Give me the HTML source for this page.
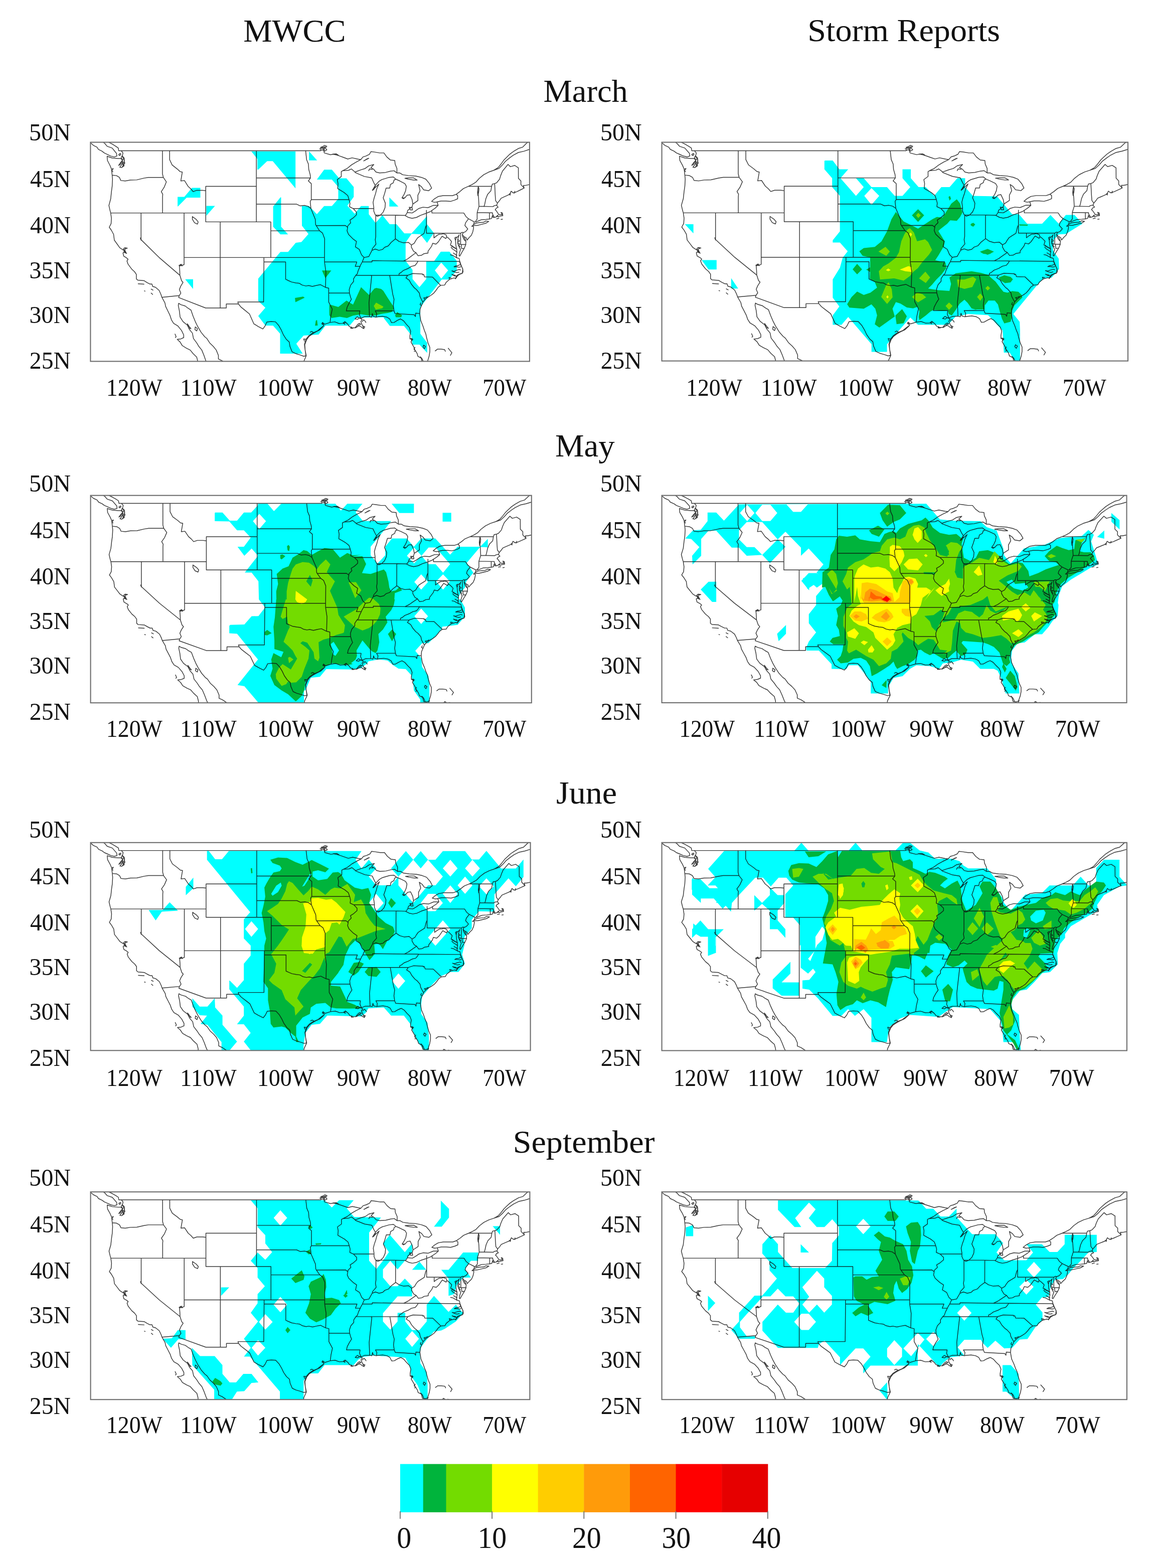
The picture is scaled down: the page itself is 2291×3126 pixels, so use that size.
<!DOCTYPE html>
<html lang="en"><head><meta charset="utf-8"><title>MWCC vs Storm Reports</title>
<style>html,body{margin:0;padding:0;background:#fff}svg{display:block}text{font-family:"Liberation Serif","DejaVu Serif",serif;fill:#111}.m{fill:none;stroke:#0d0d0d;stroke-width:1.45;stroke-opacity:.82;stroke-linejoin:round;stroke-linecap:round;vector-effect:non-scaling-stroke}.b{fill:none;stroke:#6e6e6e;stroke-width:2.1}</style></head><body>
<svg width="2291" height="3126" viewBox="0 0 2291 3126">
<rect width="2291" height="3126" fill="#fff"/>
<defs>
<path id="usmap" class="m" d="M0 0.5L4 3.5L9 5.5L11 8L16 10L19 12L23 13.5L28 15.5L33 16.5L36.5 15.5L36 12.5L33 9.5L30 6.5L23 4.5L20 1.5L17 -0.5M24 -0.5L30 2L35 4.5L38.5 6.5L39 9.5L42.5 9.5M42.5 9.5L45 12L44 15.5L46.5 17.5L47 20.5L46 23.5L46.5 26.5L43 28.5L40.5 28L43 25.5L44.5 22L43.5 19.5L42 18.3L38 18.3L30 17.7L23 15.7L23.5 20.5L27 26L29 30L29.5 33L30 37M30 37L30.5 41.5L30 49.5L29 55.5L28 63.5L25.5 71L27 76.5L28 79.5L29 85.5L28.5 91.5L26 95.5L29 99L32 103.5L33 110L37 114.5L40.5 118.5L45 121L46.5 119L49 119L47 121.5L49 124.5L46 123.5L45 124.5L46 128L50 130L52 131.5L50.5 133.5L52 137L57 142.5L61 145.5L63.5 148.5L63.5 153.5L65.5 155L74 155.5L78 157.5L82 159.3L85 159.3L86 162L90 163L95 166.5L97.5 171L98.8 174.2M66 159L74 159.5M74.5 167L75.5 167.3M84 165L86.5 166.2M84 169.5L86 171M98.8 174.2L103 180.5L104 184.5L107 189.5L110 194.5L112 199.5L115 203.5L121 206.5L126 211.5L129 216.5L129 219.5L125 221L120 221.5L124 224.5L127 228.5L133 231.5L138 233.5L142 237.5L147 241.5L148.5 246.5L149 251.5M163 251.5L160 246.5L157 239.5L154 233.5L150 229.5L147 225.5L142.5 220.5L141 214.5L137 210.5L134 205.5L128 201.5L124 196.5L123 189.5L121.5 183.5L122 181L125 182.5L131 184L135 186.5L139 188.5L142 195.5L145 201.5L148 206.5L153 213.5L158 218.5L161 220.5L165 225.5L170 229.5L174 233.5L177 239.5L177 243.5L182 245.5L187 248.5L190 251.5M98.8 174.2L122.8 172.3L122 174.5L159.3 186.2L187.9 186.2L187.9 181.7L204.7 181.7M204.7 181.7L208 185L214 189L220 193L223 198.5L226 204L232 207L238.5 209.8L241.5 206.5L244 202L250 201.5L256 201.8L260.5 206L264 211L267 216.5L271 221.5L275 224.5L276 229.5L279 235.5L284 237.5L290 239L295 240.5L298.5 239.9M294 251.5L295 246.5L298.5 239.9L297 233.5L296 227.5L298 221.5L302 217.5L307 214.5L314 212L319 208.5L323 206L321 202.5L324 204.5L331.5 202.5L338 201.8L344 203.7L349 203.5L352 201.5L356 204.5L358 207L362 208.5L367 208.5L370 206.5L373 206.5L376 208.5L378.5 209.5L376 205.5L374 201.5L376 199L372 197.5L375 197.5L379 196L386 195.8L389 196.5L390 192.5L391 195.5L395 196.5L398 196L404 195.5L410 196.5L414 198.5L416.5 202.7L420 202.5L425 200L429 198.5L433 200.5L437 204.5L441 208L443 212.5L442 217.5L442 221L445 220.5L443.5 224.5L447 229.5L449 233.5L452 237.5L453 240.5L457.5 242.5L459 247.5L463 248L466 247L467 244.5L468.5 240.5L469.5 235.5L469.5 230.5L467 225.5L465 219.5L464 215.5L462 211.5L460 206.5L457 200.5L456 195.5L455.5 192.5M455.5 192.5L456 187.5L458 183.5L460 179.5L463 176.5L467 174L471 172L475 169.5L478 166.5L481 163L484.5 160.8L490 160.5L492 157.5L497 154L503 152.5L505 153L507 149.5L511 148L514.5 147L515 142.5L512.5 137.5L511 134L510 130.5L507 130L506 127.5L507 123.5L506.5 120L501 117.5L498 115.5L499.5 111.5M506.5 120L505.5 115.5L505 110.5L506 107.5L509 105.5L510 104L508 109.5L508 113.5L510 117.5L512 120.5L510.5 124.5L510 127.5L511 128L514 123.5L517 119.5L519 115.5L519.5 111.5L517 109.5L515 106L514.5 103.5L516 101.5M514.5 103.5L516 105.5L520 107.5L521 110L524 107L527 104.5L529 100.5L530 96.5L530 94.5L527.5 94.5L530 92.5L531 89.5M530 93.5L535 93.5L541 92.3L547 91L551 89L547 88.5L543.5 90L538 90.3L533 91L530 92.5M531 89.5L533.5 89.5L538 88L541 87L547 86.7L551.5 86.3L555 85.7L556 82.5L557 84.5L559 84.5L561 84L563.5 82L564 84L567 83L570.5 82.5L570 79.5L568 78.8L569.5 81.5L565 81.5L563.5 79.5L561 76.5L560 76L561.5 74L564 73L562 71L563 68.5L566 65.5L568 63L572 61.5L576 60L580 58.5L582 55L585 57L590 55.5L595 53.5L600 51.5L599 48.5L602 48.5L607.5 47.5M562 86L565 85.5M568 86.7L570 86.5M558 31.5L564 28.5L568 24.5L572 20L575 17.5L580 13.5L585 10.5L592 7L598 5.5L604 0.5L607.5 -0.5M558 31.5L565 29.5L570 25.5L574 21.5L580 17.5L585 14.5L592 11.5L600 10L607.5 8M477 234.5L480 232.5L485 232.5L490 233L491 235M486 249.5L488 247.5L490 248.5L492 250.5M495 231.5L498 234.5L500 236.5L498 239.5M494 248.5L497 249.5M349 32L355 29.5L361 25.5L367 22.5L374 19.5L377 16.5L381 15.5L386 13.5L388 10.5L393 11L400 12L406 12L410 16.5L415 20L421 20.5L421.5 24.5L424 29.5L424 34.5L420 32L415 32.5L408 34L400 34.5L395 33.5L392 30.5L388 28.5L392 25L385 26.5L380 29.5L374 31L366 33.5L361 30L357 31.5L349 32M378 21L383 18.5L385 18L378 21M422.5 41.5L419 39L413 39.5L407 41L403 42L399 44L394 48.5L390 54L394 51L399 47L396 52.5L394.5 57.5L392.5 62.5L391 67.5L392 73.5L392 77.5L394 81.5L397 83.3L401 82L405 78.5L407.5 73.5L408 68.5L405 62.5L407 57.5L409 51.5L414 51.5L415 47.5L419 45.5L420 42.5L422.5 41.5M422.5 41.5L428 43.5L435 46.5L437 49.5L436 54.5L434 58.5L431 62.5L435 62.5L438 59.5L442 59L445 64.5L446 69.5L445 72.5L442 74.5L439 76.5L438 79.5L435.5 82.5M446 69.5L453 65.5L453 59.5L456 54.5L454 47.5L458 50L461 53.5L468 54.5L472 51.5L469 46.5L464 41.5L458 39.5L450 38L440 37.5L432 36.5L428 34.5L424 34.5M435 40.5L440 40L447 40L452 42.5L447 42.5L440 41.5L435 40.5M435.5 82.5L440 84.5L445 85.5L451 84.5L457 82L464 80L470 78L477 74L481 71L474 71L467 73.5L460 73L454 74.5L449 77.5L445 79.5L439 79M479.5 67L485 66L492 66L498 66.5L504 65L508 63.5L508 60L506 58.5L501 60L495 60L488 60L481 61L476 63.5L472 66.5L476 67.5L479.5 67M481 71L479.5 67M506 58.5L511 55.5L516 52L523 49.5L528 47.5L533 45L538 40.5L544 36.5L551 33.5L558 31.5M39 9.5L318.5 9.5L318.5 5.7L322 6.5L323.5 12L332 14L337 13.3L345 15.5L350 17L356 18.8L362 17.5L370 19L374 19.5M523 49.5L555 49.5L556 47L559.2 46.5L562 45.5L566 41.5L567.5 37.5L570 32.5L577.7 24.9L581 27.5L587 26L592 28.8L592.1 40.5L595.5 43.5L595.5 47.5L600 51.5M30 37L36 37.5L40 39.5L42 43L48 43.5L55 42.5L64 42.3L74 40.3L80 39.5L100.8 39.5M99.6 9.5L99.6 35.5L100.8 39.5L105 44.5L102 50.5L98 55.5L100 58.5L99.7 61.5L99.7 79.5M28 79.5L159.5 79.5M70 79.5L70 109.5L95 129.5L123.7 149.5M129.5 79.5L129.5 137.5L126 138.5L123 139L123.5 144.5L123.7 149.5L126 155.5L128 157.5L125 161.5L123 165.5L125 169.5L122.8 172.3M109.5 9.5L109.5 19.5L113 25.5L120 30L124 33L127 33.5L125 43.5L130 43L135 49.5L139 52.5L142 55.5L147 54L155 54L159.5 54.5M159.5 49.5L159.5 89.5M159.5 49.5L229.5 49.5M159.5 89.5L249.5 89.5M229.5 9.5L229.5 89.5M179.5 89.5L179.5 186.2M129.5 129.5L323.8 129.5M249.5 89.5L249.5 129.5M240 129.5L240 134.5L239.5 179.5L203.8 179.5L204.7 181.7M240 134.5L270 134.5L270 153.9L274 155.5L278 157L284 158L289 158.5L293 160.5L298 161.5L302 161L307 162L312 161L318 160L325.2 163.1L329.6 164M229.5 40.1L304.4 40.1M229.5 69.5L285 69.5L290 71.5L296 71L301 72L305 74.5M249.5 99.5L317 99.5M297.7 9.5L299 19.5L301.5 24.5L302 30.5L304 36.5L304.4 40.1L301.5 43.5L305.5 46.5L305.5 64.5L304 66.5L305 74.5L306.5 77.5L309 82.5L311 86.5L311.5 92.5L312.3 93.7L317 99.5L321 102L324 108.5L323.8 129.5L323.8 134.5L325.7 145.5L325.2 163.1M305.5 64.5L357.8 64.5M312.3 93.7L352.7 93.5L355.8 95.7M323.8 134.5L368.5 134.5L366.3 139.5L373 139.5M329.6 164L329.6 179.5L334.5 187.5L332.5 195.5L331.5 202.5M329.6 169.5L358.3 169.5M349 32L347 33L347 38.5L341.5 42L342.5 46.5L342 52L347 54.5L351 56.5L356 60L357.8 64.5L359 68.5L358.5 72.5L363.5 74.5L368 78.5L368 81.5L363.5 85L359 87.5L360 90.5L356 94L355.8 95.7L355 99.5L357 103.5L363 108.5L368 111.5L366.5 117.5L372 120.5L375 126.5L378.5 129.5L376 134.5L374 137.5L373 139.5L370.5 144L369 148L367 149.5L364 153.5L364 156.5L360 160.5L358 165.5L358.3 169.5L360 174.5L361 176.5L358 180.5L355 185.5L354 189.5L372.7 189.5L372 193.5L374 197.5M363.5 74.5L392 74.5M366 34L379 38.5L389 40L392 45.5L394 48.5M394.7 82.5L394.7 106L394 109.5L395 114.5L390 119.5L389.5 121.5M378.5 129.5L385 128.5L389.5 121.5L394 120L399 121.5L404 120.5L407 118L412 116.5L416 112.5L422 108.5L427 111.5L433 113L440 112.5L444 115.5L448 113.5L450 110.5L452.5 107.5L456 105.5L461.5 102.5L463.5 95.5L464.8 93.1M421.8 108.5L421.9 82.5M394.7 81.9L421.9 81.9L435.5 82.2M464.8 76.5L464.8 102.3M464.8 102.3L512.1 102.3L514 101.2L516 101.5M472.4 76.8L472.4 79.5L516.5 79.5L519.5 83.5L523 86L519 90.5L518 93.5L522 97.5L519 100.5L516 101.5M523 86L531 89.5M512.1 102.3L512.1 114.9L519.5 114.9M513 114.9L513.5 119.5L517 119.3M475.2 102.3L475.2 107.5L479 105L482 103.5L486 103.3L488 102.7L492 104L492.8 106.3L495 107.5L498 110L499.5 111.5M492.8 106.3L491.7 108.2L486.5 105.5L481.3 111.9L478 114.5L473.5 113.5L472 116.8L467 122.5L467 124.5L461.5 125.2L458 127L453.2 127.5L450.3 124.1L447 122.5L444 118L444 115.5M450.3 124.1L443 128.5L439 131L433.2 133.5M376 134.5L389.5 134.5L389.5 133L433.2 133.5L453.2 133.6L511 134M367 149.5L426.8 149.6L438.9 149.5M453.2 133.6L451 136.5L449 138.5L444 139.5L439 142L433 144L429.5 146.5L427 147.5L426.8 149.6M438.9 149.5L446 147.5L459.5 148L459.5 149L461 148.5L462.2 151.3L473.3 151.5L484.5 160.8M438.9 149.5L436.5 152.5L441 155L444 159.5L448 163.5L451 165.5L455 169.5L456 173.5L459 178.5L460 179.5M388 149.5L389 150.5L385.3 180.5L386 195.5M414 149.7L418.2 170.8L420 176.5L419 183.5L420 189.5L421.4 192.5L448 193.8L449.5 195.9L450 192L455.5 192.5M420 189.5L394 189.5L396 192.5L395.5 196M536.5 49.5L536 54.5L537 63.5L537.5 72L535 79L535 86.5L533 88.5L533.5 89.5M555 49.5L554 54.5L549.5 58.5L547 63.5L545.5 69.5L544.5 72.2M537.5 72L557 72.3L558.5 71.3L561.5 70.8M535 79L552 79.3L556.2 79.3L556.2 80.5L558 83.5L559 84.5M552 79.3L552 86.5M563 68.5L560.5 65.5L560 59.5L559.2 46.5M141 83.5L146 86.5L149 89.5L148 92L144 90.5L141 86.5L141 83.5M69 107.5L70 110M461 228L463.5 229.5L462 232L460 230L461 228M317 7.5L324 6.5L323 10.5M41 12.5L39 14L40.5 15L42 13.5L41 12.5M43.5 15.5L42.5 17.5L44.5 20L46 19L44.5 16.5L43.5 15.5M44 20.5L41 23.5L39 26L41.5 25L43 22L45 22L44.5 24.5L45.5 26L44 27.5M45 24.5L45.5 25.5L44.8 26.2M46.5 20.5L47.5 23.5L46 25M30 30L31.5 29.5L29.5 32.5L31 33M45 121L46 120.5L47.5 121L49.5 124.5L50 125L48 124L46.5 122.5L46 121.5M46.5 119L48 118.5L51 119L49 119.5M122.5 138.5L125 138L127 139L125.5 137L122.5 138.5M318.5 5.7L321 5L324 3.5L327 4.5L325 6.5L327 8.5L324 10L321.5 8.5L319 9M321 6L323 5.5L325 5L322.5 7L321 6M335 13.3L340 13L343 14.5L339 14L335 13.3M536.5 49.5L537.5 52.5L537 56.5L536 60L535.5 56.5L536 52.5L536.5 49.5M441 73L445 73.5L445.5 76L442.5 76L441 73M507 120L504 118.5L501 117L500 116M507 123.5L504 121.5L501 120L499 118M507 127L504 125.5L502 124.5M507 130L504 128.5L501 127L498 126.5M509 113.5L511 114.5L509.5 116L511.5 117.5M509 109.5L510.5 111L508.5 112M505 110.5L504 107.5L506 106.5M519.5 111.5L518.5 109L517 107M510.5 134L512.5 138.5L515 142L515.5 145.5L514.5 147.3L511 148.3L508 150L505 153.5M511 137.5L509 138.5L505 139L503 140L507 140L510 140.5L512 140M512 143.5L510 143L506 144L503 145L500 144.5L504 146L507 146.5L510 146M505 149.5L502 149L500 148.5L503 150L506 150.5M499 152.5L496 152L497 154M463 176.5L461 175L464 174.5L466 173.5M458 183.5L456 182.5L457 180.5M452 253.5L457 252.5L461 251.5L465 249.5L467 246.5M444 223.5L446 221.5L443 220.5L444.5 223M449 230.5L447.5 232.5L450 234.5L448 235M456.5 241L459 243.5L461 247.5M366 198.5L369 196L372 197.5L369.5 199L366 198.5M366 208.5L368 206.5L370 204.5L372 203.5L374 204.5L371 205.5L369 207.5M376 201.5L378 199.5L380 201L381 202.5M377 206.5L379.5 207.5L378 209M356 204.5L353 202.5L350 203.5L352 204.5M361 207.5L360 209L363 209M298 239.5L297 233.5L296.5 227.5L299 222L302 218.5L306 216L311 213.5L317 211L322 207M321 202.5L320 204L322 205M304 213.5L306 212.5L308 213.5M298 221.5L295 221L296 223.5M561 84L562.5 83.5L563.5 82M556 82.5L557 82L558 83M584 56.5L587 57L587 55M579 58.5L581 57.5L580.5 59.5M394 49.5L392.5 52.5L390.5 54M390 30.5L386 30L385 32M431 62.5L433 63.5L435 62.3M134 204L137 207.5L139 209.5L136 208.5L134 204M145 207.5L148 209.5L147 212L144.5 210.5L145 207.5M117 215.5L118.5 218.5L117.5 219.5"/>
<clipPath id="cp_r1l"><rect x="180.4" y="283.6" width="875.5" height="436.8"/></clipPath>
<clipPath id="cp_r1r"><rect x="1319.6" y="283.6" width="929.4" height="436"/></clipPath>
<clipPath id="cp_r2l"><rect x="180.6" y="987.7" width="879.2" height="413.5"/></clipPath>
<clipPath id="cp_r2r"><rect x="1319.6" y="987.7" width="926.9" height="413.3"/></clipPath>
<clipPath id="cp_r3l"><rect x="180.6" y="1679.8" width="877" height="414.5"/></clipPath>
<clipPath id="cp_r3r"><rect x="1319.6" y="1679.8" width="927.3" height="414.7"/></clipPath>
<clipPath id="cp_r4l"><rect x="180.6" y="2376.2" width="875.8" height="414"/></clipPath>
<clipPath id="cp_r4r"><rect x="1319.6" y="2376.2" width="927.3" height="414"/></clipPath>
</defs>
<g clip-path="url(#cp_r1l)">
<path fill="#00ffff" fill-rule="evenodd" d="M601.8 410.8L616.3 410.8L631.8 427.1L646.3 410.8L661.7 410.8L674.5 396.3L674.5 372.7L661.7 358.1L631.8 358.1L646.3 338.2L661.7 338.2L676.3 355.4L690.8 355.4L705.3 372.7L705.3 392.6L692.6 409.9L707.1 426.2L719.8 410.8L735.3 410.8L735.3 427.1L748.9 444.4L762.5 429L777 447.1L790.7 447.1L806.1 465.3L820.6 465.3L851.5 430.8L851.5 447.1L865.1 464.4L851.5 484.3L837.9 467.1L820.6 466.2L808.8 483.4L808.7 520L822.6 538.1L822.6 556.3L836.3 572.6L849.9 556.3L849.9 520.9L865.3 520.9L878.9 501.8L896.2 501.8L910.7 520L910.7 539L895.3 557.2L880.8 557.2L838.1 612.6L838.1 665.2L851.7 683.4L851.7 703.4L836.3 687L822.6 687L819.9 668L805.4 649.8L777.3 649.8L765.4 634.4L765.1 632.6L710.6 633.5L697 649.3L648.9 649.3L635.3 667.1L605.3 668.9L590.8 685.2L603.5 704.9L558.5 704.9L558.5 665.3L544.5 649.3L529.1 648.9L514.9 629.9L529.1 613.5L514.9 599.9L514.9 555.4L559.1 502.2L574.4 502.2L589.7 484L601 482.5L615 466.5L602 450ZM867.1 539L879.8 523.6L893.5 539L879.8 555.4Z"/>
<path fill="#00ffff" fill-rule="evenodd" d="M501.2 301.7L589.2 301.7L589.2 375.5L543.8 321.2L532.7 321.2L515.1 337.9L513.2 337.9L513.2 317Z"/>
<path fill="#00ffff" fill-rule="evenodd" d="M616.2 301.7L632.3 319.8L616.2 319.8Z"/>
<path fill="#00ffff" fill-rule="evenodd" d="M776.3 393.6L794.4 411.7L776.3 411.7Z"/>
<path fill="#00ffff" fill-rule="evenodd" d="M559.1 393.6L560.5 393.6L560.5 452L574.4 467.3L559.1 467.3L544.6 452L544.6 411.7Z"/>
<path fill="#00ffff" fill-rule="evenodd" d="M354.1 392.5L367.5 392.5L382.8 374.4L399.5 374.4L399.5 393.9L372.2 393.9L354.9 411.5L354.1 411.5Z"/>
<path fill="#00ffff" fill-rule="evenodd" d="M411.5 410.6L428.7 410.6L411.5 430.1Z"/>
<path fill="#00ffff" fill-rule="evenodd" d="M369.2 556.7L385 556.7L385 576.1Z"/>
<path fill="#00b43c" fill-rule="evenodd" d="M656.6 608.6L660.6 607.9L674.6 611.9L690.9 599.3L697.3 603.2L703.9 607.2L719.9 572.6L735.9 587.9L746.5 575.3L750.5 573.9L759.9 575.9L764.5 579.9L773.2 593.9L783.8 609.9L785.2 615.2L781.2 621.9L773.2 623.9L759.9 625.9L749.2 628.8L733.2 628.8L719.9 626.6L703.9 629.2L691.9 633.9L677.3 631.5L661.3 633.9L656.6 628.5Z"/>
<path fill="#00b43c" fill-rule="evenodd" d="M787.8 628.5L791.8 621.9L801.8 628.5L799.8 632.5L789.2 632.5Z"/>
<path fill="#00b43c" fill-rule="evenodd" d="M642 539.3L660.6 539.3L648.7 554.6Z"/>
<path fill="#00b43c" fill-rule="evenodd" d="M588.1 594.1L604.4 591.2L607.5 593.5L589 602.6Z"/>
<path fill="#00b43c" fill-rule="evenodd" d="M629.8 638.9L632.2 638L633.5 648.9L628 649.3Z"/>
<path fill="#73dc00" fill-rule="evenodd" d="M745.2 609.9L749.9 603.2L764.5 611.2L762.5 614.6L749.2 617.2Z"/>
<use href="#usmap" transform="translate(180.4 283.6) scale(1.44115 1.77417)"/>
</g>
<rect class="b" x="180.4" y="283.6" width="875.5" height="436.8"/>
<g clip-path="url(#cp_r1r)">
<path fill="#00ffff" fill-rule="evenodd" d="M1644.9 319.9L1660.4 319.9L1673.6 337.6L1691.3 337.6L1675.8 355.2L1706.7 390.6L1722.2 372.9L1706.7 355.2L1722.2 355.2L1737.7 372.9L1768.6 372.9L1784.1 390.6L1799.5 390.6L1815 372.9L1799.5 355.2L1799.5 337.6L1816.1 337.6L1816.1 355.2L1831.6 372.9L1845.9 372.9L1862.5 390.6L1876.9 372.9L1893.4 372.9L1908.9 355.2L1924.4 355.2L1924.4 372.9L1939.8 390.6L1988.2 391.6L2018.1 427L2031.5 427L2048 445.9L2077.9 445.9L2094.5 428.6L2111 445.9L2125.2 428.6L2142.5 428.6L2158.2 445.9L2125.2 466.4L2111 467.2L2101.5 477.4L2099.2 493.1L2100 500L2111 515.7L2111.8 536.2L2096.8 553.5L2081.1 555.1L2068.5 567.7L2020.5 625.9L2033.1 641.6L2033.9 657.4L2033.9 721.9L2024.4 721.9L2013.4 703L2001.6 703L2000.8 685.7L1999.2 659L1975.6 633.8L1970.1 628.3L1930 625.9L1905.6 630.9L1890.1 647.5L1830.5 647.5L1815 633.1L1768.6 686.2L1768.6 701.6L1737.7 701.6L1737.7 686.2L1691.3 632L1678 647.5L1660.4 647.5L1660.4 628.7L1673.6 611.1L1660.4 593.4L1660.4 556.9L1674.7 533.7L1680.2 513.8L1690.2 501.1L1674.7 483.4L1660.4 483.4L1660.4 479L1674.7 461.3L1674.7 390.6L1659.2 372.9L1659.2 355.2L1643.8 337.6L1643.8 321ZM1723.3 390.6L1737.7 375.1L1753.1 390.6L1737.7 408.3Z"/>
<path fill="#00ffff" fill-rule="evenodd" d="M1365.6 447L1382.6 447L1382.6 465.2Z"/>
<path fill="#00ffff" fill-rule="evenodd" d="M1399 518.4L1428.8 518.4L1428.8 537.2L1412.8 537.2Z"/>
<path fill="#00ffff" fill-rule="evenodd" d="M1457.9 554.5L1471.8 575.3L1457.9 575.3Z"/>
<path fill="#00b43c" fill-rule="evenodd" d="M1713.4 501.1L1722.2 494.4L1744.3 492.2L1757.6 481.2L1768.6 461.3L1777.5 437L1786.3 422.6L1801.8 441.4L1815 448L1830.5 455.8L1845.9 445.8L1859.2 437L1868 432.6L1879.1 433.7L1885.7 423.7L1896.8 406.1L1907.8 397.2L1914.4 406.1L1918.9 423.7L1914.4 432.6L1907.8 440.3L1894.6 439.2L1889 445.8L1874.7 456.9L1871.1 460.5L1883.7 480.9L1882.1 490.4L1871.1 509.2L1864.8 518.7L1885.3 523.4L1886.8 534.4L1877.4 547L1866.4 558L1858.5 567.5L1850.6 575.3L1871.1 578.5L1893.1 580.1L1896.3 565.9L1893.1 553.3L1905.7 544.7L1937.2 540.7L1956.1 543.9L1971.8 548.6L1974.1 551.9L1985.1 561.4L1994.5 574L2000.8 581.8L2008.7 583.4L2018.1 580.3L2030.7 581.8L2037 588.1L2038.6 592.9L2030.7 600.7L2022.9 608.6L2018.1 619.6L2017.3 633.8L2015 641.6L2002.4 644.8L1997.7 635.3L1993 619.6L1989.8 607L1983.5 599.2L1970.9 599.2L1963.8 608.6L1963.1 617.2L1930 616.5L1948.2 617.8L1937.2 614.7L1929.3 603.7L1923 597.4L1913.6 605.3L1905.7 617.8L1897.8 628.9L1891.5 625.7L1890 618.6L1877.4 619.4L1861.6 617.8L1855.3 621L1845.9 628.9L1833.3 638.3L1831.7 632L1833.3 621L1830.2 611.5L1820.7 614.7L1808.1 613.1L1795.5 605.3L1786.3 602.3L1779.6 615.5L1784.1 630.9L1768.6 642.1L1753.2 653.1L1744.2 646.5L1748.8 628.7L1745.3 615.5L1737.6 606.7L1722.2 615.5L1693.5 613.3L1689.1 606.6L1697.9 592.3L1709 581.2L1722.2 587.9L1735.5 583.4L1748.7 573.5L1744.3 562.4L1734.4 555.8L1735 542.3L1727.1 537.6L1735 532.9L1735 513.2L1720 509.9L1713.4 501.1Z"/>
<path fill="#00b43c" fill-rule="evenodd" d="M1785.3 628.9L1798.7 616.3L1808.1 630.4L1801.8 644.6L1787.7 646.2Z"/>
<path fill="#00b43c" fill-rule="evenodd" d="M1991.4 553.5L2002.4 548.8L2015 551.9L2019.7 556.7L2015 563L2004 564.5L1996.1 559.8Z"/>
<path fill="#00b43c" fill-rule="evenodd" d="M1955.2 503.1L1966.2 500L1980.4 501.6L1974.1 506.3L1961.5 506.3Z"/>
<path fill="#00b43c" fill-rule="evenodd" d="M1953.6 501.8L1969.3 496.3L1981.9 501.8L1969.3 508.1Z"/>
<path fill="#00b43c" fill-rule="evenodd" d="M1937.1 448.3L1940.2 444.3L1943.8 448.3L1940.2 452.2Z"/>
<path fill="#00b43c" fill-rule="evenodd" d="M2032.3 447.2L2049.6 447.8L2048.8 450L2033.1 449.7Z"/>
<path fill="#00b43c" fill-rule="evenodd" d="M1818.3 429.3L1830.5 417.1L1842.6 429.3L1830.5 442.5Z"/>
<path fill="#00b43c" fill-rule="evenodd" d="M1700.1 537L1709 526L1718.9 537L1709 547Z"/>
<path fill="#00b43c" fill-rule="evenodd" d="M1891.2 392.8L1894.1 390.6L1896.3 396.1L1893.4 399.9Z"/>
<path fill="#00b43c" fill-rule="evenodd" d="M1936.5 447.6L1940.5 444.1L1944.5 447.6L1940.5 451.6Z"/>
<path fill="#00b43c" fill-rule="evenodd" d="M1934.8 447.9L1938 444.7L1941.9 447.9L1938 451.3Z"/>
<path fill="#73dc00" fill-rule="evenodd" d="M1814.4 455L1822.3 463.6L1828.6 480.9L1844.3 477L1850.6 482.5L1858.5 498.2L1852.2 507.7L1839.6 521.8L1830.2 534.4L1820.7 542.3L1814.4 550.2L1801.8 559.6L1783 554.9L1754.6 557.2L1752.3 540.7L1760.9 531.3L1771.9 525L1786.1 514L1792.4 503L1797.1 480.9L1803.4 466.8L1809.7 457.3Z"/>
<path fill="#73dc00" fill-rule="evenodd" d="M1751.5 501.4L1765.6 491.9L1774.3 501.4L1767.2 510Z"/>
<path fill="#73dc00" fill-rule="evenodd" d="M1832.5 554.9L1845.1 541.5L1854.6 553.3L1845.9 564.3Z"/>
<path fill="#73dc00" fill-rule="evenodd" d="M1757 591.9L1767.2 567.5L1771.9 562.8L1778.2 576.9L1779.8 592.7L1768.8 606Z"/>
<path fill="#73dc00" fill-rule="evenodd" d="M1818.4 591.9L1828.6 583.2L1839.6 586.4L1846.7 592.7L1830.2 602.9Z"/>
<path fill="#73dc00" fill-rule="evenodd" d="M1908.1 557.2L1923 557.2L1940.3 551.7L1946.6 556.5L1938.8 572.2L1923 576.1L1910.4 572.2Z"/>
<path fill="#73dc00" fill-rule="evenodd" d="M1964.7 574.6L1969.4 569.8L1974.2 574.6L1969.4 579.3Z"/>
<path fill="#73dc00" fill-rule="evenodd" d="M1948.2 591.9L1954.5 584.8L1960 591.9L1954.5 599.7Z"/>
<path fill="#73dc00" fill-rule="evenodd" d="M1885.3 610L1892.3 602.9L1899.4 610L1892.3 617.8Z"/>
<path fill="#73dc00" fill-rule="evenodd" d="M1826.5 429.3L1830.9 424.2L1836 429.3L1830.9 434.8Z"/>
<path fill="#ffff00" fill-rule="evenodd" d="M1794 537.6L1811.3 530.5L1818.4 532.9L1818.4 542.3L1805 540.7Z"/>
<path fill="#ffff00" fill-rule="evenodd" d="M1766.4 538.4L1771.1 535.2L1775.9 538.4L1771.1 540.7Z"/>
<path fill="#ffff00" fill-rule="evenodd" d="M1812.9 466.8L1816 463.6L1818.4 467.5L1816 471.5Z"/>
<path fill="#ffff00" fill-rule="evenodd" d="M1767.2 591.9L1769.6 588.7L1771.9 591.9L1769.6 595Z"/>
<use href="#usmap" transform="translate(1319.6 283.6) scale(1.52988 1.77092)"/>
</g>
<rect class="b" x="1319.6" y="283.6" width="929.4" height="436"/>
<g clip-path="url(#cp_r2l)">
<path fill="#00ffff" fill-rule="evenodd" d="M514.4 1004.2L533.5 1004.2L546.2 1019.1L560.7 1004.2L668.8 1004.2L679.7 1018.1L692.4 1004.2L720 1004.2L722.7 1004.2L709.1 1020.9L723.6 1038.7L779.9 1038.7L767.2 1055.4L752.7 1073.5L739 1089.9L739 1107.1L752.7 1123.5L768.1 1107.1L768.1 1089.9L781.7 1073.5L810.8 1073.5L825.3 1089.9L839.8 1073.5L868 1073.5L897.5 1105.8L912.2 1090L956.9 1090L956.9 1091.1L930.7 1122.1L943.8 1141.7L929.7 1159.2L927 1171.6L917.9 1182.5L912.5 1195L917.9 1195L927 1211.3L927 1228.6L912.5 1245.8L896.1 1247.7L881.6 1249.5L881.6 1253.1L868.9 1267.6L854.3 1282.2L841.6 1282.2L828 1297.6L839.8 1312.1L841.6 1329.4L854.3 1347.5L856.2 1363.9L856.2 1405.6L838 1405.6L838 1394.7L825.3 1376.6L823.5 1358.4L819.8 1345.7L809 1333.9L794.4 1333L783.5 1325.7L772.6 1316.7L754.5 1314.8L734.5 1318.5L732.7 1322.1L718.2 1333L700 1333.9L703.3 1334.8L650.6 1333.9L637.9 1349.3L619.7 1351.2L608.9 1376.6L606.1 1376.6L606.1 1405.6L514.4 1405.6L514.4 1400L487.2 1367.9L473.6 1365.7L514.4 1314.8L472.7 1263.6L457.2 1262.6L457.2 1247.7L459 1245.8L487.2 1244.9L501.7 1228.6L515.3 1228.2L528.6 1211L516.2 1195L515.3 1158.9L501.7 1141.6L488.1 1141.6L514.4 1108L501.7 1093.5L487.2 1108L473.6 1089.9L486.3 1089.9L499.9 1071.7L486.3 1057.2L472.7 1057.2L457.2 1039.4L428.2 1039L428.2 1022.7L429.1 1021.8L443.6 1021.8L458.1 1038.1L472.7 1038.1L486.3 1021.8L500.8 1021.8L514.4 1007.3ZM504.4 1039L517.1 1024.5L530.4 1039L517.1 1054.5ZM811.4 1107.9L825.6 1091.6L840.3 1107.9L825.6 1123.2ZM840.3 1107.9L854.5 1091.6L868.6 1091.6L897.5 1124.8L883.4 1141.7L868.6 1124.8L854.5 1124.8ZM869.7 1159.2L883.4 1145L897 1159.2L883.4 1175.5ZM826.1 1160.2L839.8 1145L853.4 1160.2L839.8 1175.5ZM826.2 1228.6L839.8 1213.2L853.4 1228.6L839.8 1244Z"/>
<path fill="#00ffff" fill-rule="evenodd" d="M956.9 1090.5L972.7 1074.2L972.7 1091.1Z"/>
<path fill="#00ffff" fill-rule="evenodd" d="M780.8 1004.2L825.3 1004.2L825.3 1022.7L796.2 1022.7Z"/>
<path fill="#00ffff" fill-rule="evenodd" d="M882.5 1022.3L899.7 1022.3L899.7 1039.9L882.5 1039.9Z"/>
<path fill="#00b43c" fill-rule="evenodd" d="M551.1 1195L550.7 1178.9L554.4 1164.3L551.7 1144.3L563.5 1133.5L575.3 1128.9L583.4 1111.7L594.3 1105.3L605.2 1096.8L612.5 1098.6L621.6 1106.2L634.3 1099L647 1092.6L663.3 1094.4L677.9 1111.7L692.4 1102.6L703.3 1107.1L720 1106.2L700 1109.8L722.7 1108.9L730 1124.4L721.8 1142.5L739 1144.3L765.4 1135.3L769.9 1140.7L774.5 1158.9L776.3 1171.6L779.9 1178.9L789 1177L796.2 1171.6L801.7 1177L787.2 1182.5L786.3 1195L787.2 1195L785.3 1205.9L779.9 1216.8L769 1229.5L772.6 1240.4L763.6 1254.9L754.5 1264L756.3 1280.3L752.7 1296.7L749 1302.1L741.8 1298.5L736.3 1293.1L722.7 1276.7L710.9 1296.7L711.8 1307.6L709.1 1314.8L700 1322.1L703.3 1323.9L692.4 1325.7L674.2 1323.9L661.5 1322.1L647 1329.4L634.3 1340.3L619.7 1347.5L608.9 1358.4L607 1374.8L601.6 1387.5L589.8 1398.4L574.3 1383.9L561.6 1376.6L547.1 1365.7L538.9 1347.5L543.5 1333L540.8 1314.8L545.3 1302.1L560.7 1310.3L565.3 1299.4L547.1 1294L547.1 1276.7L545.3 1249.5L548 1231.3L550.7 1195Z"/>
<path fill="#00b43c" fill-rule="evenodd" d="M572.2 1089L575.3 1086.2L578 1089.9L576.5 1099L573.4 1097.1Z"/>
<path fill="#00b43c" fill-rule="evenodd" d="M558.9 1106.2L563.5 1105.3L568.9 1108.9L561.6 1115.3L558.9 1113.5Z"/>
<path fill="#00b43c" fill-rule="evenodd" d="M527.1 1260.4L532.6 1255.8L541.7 1262.2L532.6 1266.7L527.1 1265.8Z"/>
<path fill="#00b43c" fill-rule="evenodd" d="M773.5 1264L781.7 1254.9L789.9 1264L781.7 1278.5Z"/>
<path fill="#00b43c" fill-rule="evenodd" d="M791.4 1175.8L795.8 1170.9L801.3 1175.8Z"/>
<path fill="#00ffff" fill-rule="evenodd" d="M659.7 1284L665.1 1279.4L676 1296.7L668.8 1307.6L663.3 1304Z"/>
<path fill="#73dc00" fill-rule="evenodd" d="M571.6 1195L571.6 1178.9L574.3 1162.5L579.8 1144.3L583.4 1133.5L589.8 1125.3L603.4 1120.4L616.1 1121.7L625.2 1128L631.5 1135.3L637.9 1126.2L649.7 1115.3L658.8 1125.3L651.5 1140.7L652 1140.9L657.4 1147.4L667.8 1158.9L658 1177.9L672.7 1211.7L674.9 1225.9L687.9 1246.6L685.8 1260.7L683.3 1262.2L670.6 1265.8L656.1 1272.2L645.2 1274.9L635.2 1280.3L637 1311.2L634.3 1318.5L627 1313L625.2 1300.3L612.5 1281.3L603.4 1278.5L598.9 1282.2L608.9 1289.4L617 1296.7L615.2 1313L607 1333L601.6 1349.3L590.7 1360.2L579.8 1361.2L574.3 1358.4L570.7 1363.9L561.6 1367.5L550.7 1353L549.8 1343.9L556.2 1331.2L563.5 1323.9L579.8 1334.8L592.5 1313L588.9 1307.6L583.4 1296.7L574.3 1287.6L565.3 1279.4L574.3 1256.7L578 1249.5L574.3 1244L572.5 1229.5L563.5 1234L559.5 1229.5L561.6 1222.2L569.8 1195Z"/>
<path fill="#00b43c" fill-rule="evenodd" d="M610.7 1158.9L617.9 1146.2L623.4 1157.1L619.7 1169.8Z"/>
<path fill="#73dc00" fill-rule="evenodd" d="M574.3 1311.2L578 1309.4L585.2 1314.8L576.2 1322.1Z"/>
<path fill="#73dc00" fill-rule="evenodd" d="M695 1161.1L709.7 1160.5L720.6 1176.9L708.1 1192.6Z"/>
<path fill="#73dc00" fill-rule="evenodd" d="M685.2 1229.2L710.8 1214.4L725 1200.8L735.9 1191.6L743.5 1193.2L755.5 1204.1L758.8 1212.8L757.7 1224.8L752.2 1236.8L744.6 1245.5L735.9 1252L722.8 1256.9L707.6 1249.9Z"/>
<path fill="#ffff00" fill-rule="evenodd" d="M589.8 1177.9L612.5 1195L608.9 1200.4L601.6 1204.1L592.5 1200.4L588.9 1195Z"/>
<use href="#usmap" transform="translate(180.6 987.7) scale(1.44724 1.66064)"/>
</g>
<rect class="b" x="180.6" y="987.7" width="879.2" height="413.5"/>
<g clip-path="url(#cp_r2r)">
<path fill="#00ffff" fill-rule="evenodd" d="M1366.4 1073.5L1381.8 1057.2L1397.2 1056.3L1410.8 1039L1410.8 1021.8L1428.1 1021.8L1443.5 1038.1L1473.5 1005.4L1847 1004.2L1861.5 1020.9L1874.2 1035.4L1900 1037.9L1954.5 1039L1967.6 1051L1987.2 1057.6L2000.2 1092.4L2002.4 1107.7L2015.5 1122.9L2041.6 1093.5L2083 1085.9L2113.6 1072.8L2157.1 1068.4L2170.2 1056.5L2181.1 1066.3L2175.7 1079.3L2183.3 1103.3L2189.8 1125.1L2176.7 1130.6L2157.1 1142.5L2135.3 1155.6L2117.9 1168.7L2111.4 1186.1L2109.2 1201.4L2110.6 1206.3L2108.8 1228.1L2097.9 1239L2090.6 1249.9L2077.9 1264.4L2063.4 1264.4L2043.4 1280.8L2028.9 1282.6L2018 1297.1L2016.2 1311.6L2018 1324.3L2030.7 1342.5L2032.5 1382.5L2005.3 1382.5L1996.2 1351.6L1989 1337.1L1981.7 1333.4L1954.5 1333.4L1939.9 1318.9L1916.3 1315.3L1898.2 1320.7L1880 1322.5L1872.4 1333.4L1854.2 1328L1827 1326.2L1814.3 1333.4L1799.7 1348L1781.6 1351.6L1770.7 1369.7L1770.7 1382.5L1736.2 1382.5L1736.2 1358.9L1710.8 1326.2L1692.6 1326.2L1687.2 1334.3L1658.1 1333.4L1658.1 1324.3L1632.7 1297.1L1608.2 1297.1L1607.3 1291.7L1612.7 1279L1627.2 1260.8L1612.7 1242.6L1612.7 1224.5L1627.2 1206.3L1627.2 1188.2L1642.7 1170L1643.6 1158.9L1628.2 1141.6L1641.8 1125.3L1612.4 1093.5L1597 1108L1597 1091.7L1566.1 1059.9L1550.7 1075.3L1519.8 1040.8L1488.9 1040.8L1473.5 1057.2L1473.5 1075.3L1488.9 1090.8L1504.4 1090.8L1519.8 1106.2L1488.9 1108L1473.5 1091.7L1459 1091.7L1428.1 1058.1L1412.7 1058.1L1398.1 1074.4L1398.1 1108L1380.9 1125.3L1380 1108L1394.5 1090.8L1378.2 1074.4ZM1475.3 1022.7L1489.8 1006.3L1504.4 1022.7L1489.8 1039ZM1506.2 1022.7L1519.8 1006.3L1536.1 1006.3L1549.8 1022.7L1536.1 1038.7L1519.8 1038.7ZM1567 1004.5L1581.5 1020.5L1597 1020.5L1611.5 1004.5Z"/>
<path fill="#00ffff" fill-rule="evenodd" d="M1550.7 1075.3L1566.1 1089.9L1535.2 1122.6L1519.8 1106.2Z"/>
<path fill="#00ffff" fill-rule="evenodd" d="M1397.2 1175.2L1412.7 1159.8L1428.1 1159.8L1428.1 1199.9L1419.9 1199.9Z"/>
<path fill="#00ffff" fill-rule="evenodd" d="M1597.9 1158L1612.4 1142.5L1628.7 1142.5L1646.9 1158.9L1628.7 1171.6L1614.2 1158.9L1613.3 1177Z"/>
<path fill="#00ffff" fill-rule="evenodd" d="M2187.6 1070.6L2201.8 1057.6L2201.8 1073.9Z"/>
<path fill="#00ffff" fill-rule="evenodd" d="M2216 1022.7L2232.3 1036.9L2232.3 1055.4L2216 1040.1Z"/>
<path fill="#00ffff" fill-rule="evenodd" d="M1549.5 1263.6L1567.2 1246L1567.2 1263.6L1552.5 1278.3Z"/>
<path fill="#00ffff" fill-rule="evenodd" d="M1600.6 1153.2L1617.1 1146.1L1625.9 1163.8L1610 1174.3Z"/>
<path fill="#00b43c" fill-rule="evenodd" d="M1640 1140.7L1652.7 1131.6L1656.3 1106.2L1663.6 1095.3L1667.2 1075.3L1672.7 1068.1L1689 1069.9L1705.3 1067.2L1714.4 1075.3L1736.2 1079L1754.4 1080.8L1763.5 1064.5L1772.5 1060.8L1781.6 1059L1787.1 1062.6L1794.3 1053.6L1810.7 1044.5L1837.9 1037.2L1845.2 1031.8L1852.4 1039L1859.7 1051.7L1874.2 1062.6L1892.4 1066.3L1906.9 1064.5L1920 1075.3L1917.4 1083.7L1921.8 1112L1934.9 1118.6L1945.8 1112L1952.3 1099L1969.7 1096.8L1980.6 1101.1L1987.2 1107.7L1995.9 1110.9L2004.6 1118.6L2013.3 1125.1L2030.7 1120.7L2039.5 1122.9L2050.4 1138.2L2052.5 1149.1L2070 1142.5L2085.2 1134.9L2098.3 1130.6L2111.4 1126.2L2104.8 1120.7L2091.8 1118.6L2083 1108.8L2091.8 1099L2107 1088.1L2117.9 1092.4L2131 1096.8L2141.9 1094.6L2144.1 1077.2L2157.1 1075L2163.7 1072.8L2157.1 1081.5L2152.8 1099L2161.5 1101.1L2174.6 1101.1L2181.1 1107.7L2183.3 1116.4L2172.4 1125.1L2152.8 1138.2L2131 1151.3L2115.7 1164.3L2107 1179.6L2102.7 1200.1L2097.9 1206.3L2105.2 1224.5L2094.3 1235.4L2079.7 1249.9L2070.7 1260.8L2050.7 1271.7L2039.8 1279L2023.5 1286.2L2014.4 1300.7L2012.6 1313.5L2014.4 1320.7L2007.1 1328L1999.8 1322.5L1996.2 1311.6L1992.6 1300.7L1981.7 1289.8L1970.8 1284.4L1959.9 1280.8L1919.9 1278L1917.2 1281.7L1929 1295.3L1925.4 1304.4L1916.3 1308L1909.1 1300.7L1907.2 1297.1L1898.2 1304.4L1890.9 1311.6L1880 1313.5L1861.5 1302.6L1854.2 1306.2L1843.3 1300.7L1836.1 1295.3L1828.8 1297.1L1828.8 1308L1823.4 1315.3L1810.6 1324.3L1799.7 1328L1788.9 1333.4L1785.2 1328L1781.6 1318.9L1774.3 1326.2L1763.4 1333.4L1748.9 1342.5L1738 1348L1734.4 1328L1727.1 1317.1L1716.2 1311.6L1701.7 1313.5L1690.8 1320.7L1676.3 1322.5L1669 1315.3L1676.3 1308L1679.9 1297.1L1681.7 1284.4L1661.7 1284.4L1654.5 1279L1659.9 1271.7L1674.5 1268.1L1672.6 1255.3L1667.2 1246.3L1670.8 1228.1L1667.2 1213.6L1676.3 1206.3L1679.9 1197.2L1674.5 1189.1L1660.8 1199.1L1652.7 1186.3L1645.4 1170L1639.1 1171.6Z"/>
<path fill="#00b43c" fill-rule="evenodd" d="M1754.4 1022.7L1770.7 1006.3L1794.3 1007.3L1807 1022.7L1794.3 1035.4L1781.6 1040.8L1768.9 1049.9L1759.8 1037.2Z"/>
<path fill="#00b43c" fill-rule="evenodd" d="M1732.6 1057.2L1750.7 1048.1L1763.5 1055.4L1752.6 1069.9L1738 1064.5Z"/>
<path fill="#00b43c" fill-rule="evenodd" d="M1998 1329.8L2000.8 1322.5L2007.1 1333.4L2003.5 1340.7Z"/>
<path fill="#00b43c" fill-rule="evenodd" d="M2005.3 1351.6L2014.4 1337.1L2023.5 1348L2028.9 1369.7L2025.3 1377L2014.4 1362.5Z"/>
<path fill="#00b43c" fill-rule="evenodd" d="M1758 1366.1L1768 1355.2L1767.1 1371.6Z"/>
<path fill="#00ffff" fill-rule="evenodd" d="M2006.8 1160L2017.7 1155.6L2024.2 1164.3L2043.8 1162.2L2050.4 1170.9L2039.5 1177.4L2022 1173L2013.3 1166.5Z"/>
<path fill="#73dc00" fill-rule="evenodd" d="M1679.9 1158.9L1687.2 1144.3L1690.8 1131.6L1705.3 1120.7L1721.7 1115.3L1732.6 1108L1739.8 1102.6L1754.4 1099L1758 1088.1L1768.9 1075.3L1783.4 1071.7L1794.3 1075.3L1805.2 1069.9L1810.7 1055.4L1821.6 1048.1L1832.5 1046.3L1843.4 1051.7L1847 1062.6L1854.2 1077.2L1867 1095.3L1874.2 1106.2L1888.7 1109.8L1892.4 1099L1885.1 1088.1L1896 1080.8L1908.7 1082.6L1920 1091.7L1913.1 1099L1906.5 1116.4L1904.4 1138.2L1913.1 1151.3L1921.8 1129.5L1939.2 1120.7L1952.3 1112L1971.9 1116.4L1982.8 1099L1991.5 1107.7L1995.9 1116.4L2013.3 1127.3L2030.7 1122.9L2037.3 1129.5L2030.7 1138.2L2009 1146.9L1991.5 1157.8L2002.4 1166.5L2017.7 1179.6L2028.9 1186.3L2043.4 1180.9L2054.3 1188.2L2061.6 1175.4L2068.9 1186.3L2076.1 1199.1L2079.7 1197.2L2085.2 1206.3L2079.7 1215.4L2085.2 1222.7L2088.8 1229.9L2085.2 1239L2076.1 1249.9L2061.6 1260.8L2050.7 1266.2L2038 1275.3L2025.3 1280.8L2016.2 1282.6L2007.1 1273.5L1996.2 1266.2L1974.4 1269.9L1959.9 1271.7L1939.9 1264.4L1925.4 1260.8L1916.3 1251.7L1914.5 1242.6L1907.2 1239L1900 1257.2L1898.2 1282.6L1896.3 1297.1L1880 1304.4L1888.7 1297.1L1874.2 1295.3L1868.7 1286.2L1861.5 1275.3L1850.6 1273.5L1841.5 1279L1830.6 1286.2L1823.4 1279L1810.6 1271.7L1799.7 1260.8L1797.9 1264.4L1801.6 1279L1788.9 1293.5L1778 1298.9L1776.1 1313.5L1767.1 1322.5L1752.5 1328L1741.6 1315.3L1727.1 1308L1707.1 1295.3L1692.6 1302.6L1689 1297.1L1690.8 1279L1687.2 1271.7L1687.2 1260.8L1681.7 1248.1L1681.7 1229.9L1689 1211.8L1698.1 1204.5L1696.2 1188.2L1694.4 1170L1689 1175.2Z"/>
<path fill="#73dc00" fill-rule="evenodd" d="M1649.1 1144.3L1659 1135.3L1667.2 1144.3L1670.8 1162.5L1667.2 1175.2L1659.9 1184.3L1652.7 1171.6L1658.1 1184.5L1669 1177.3Z"/>
<path fill="#73dc00" fill-rule="evenodd" d="M1765.3 1023.6L1769.3 1020L1773.4 1023.6L1769.3 1027.2Z"/>
<path fill="#73dc00" fill-rule="evenodd" d="M2061.3 1160L2092.9 1158.9L2074.3 1199.2Z"/>
<path fill="#73dc00" fill-rule="evenodd" d="M2088.5 1108.8L2096.1 1104.4L2105.9 1108.8L2095 1113.1Z"/>
<path fill="#73dc00" fill-rule="evenodd" d="M2144.1 1076.1L2163.7 1073.9L2157.1 1081.5Z"/>
<path fill="#00b43c" fill-rule="evenodd" d="M1843.3 1228.1L1861.5 1226.3L1876 1215.4L1883.3 1220.8L1879.6 1231.7L1872.4 1246.3L1866.9 1259L1857.9 1249.9L1854.2 1239Z"/>
<path fill="#00b43c" fill-rule="evenodd" d="M1898.2 1210.9L1934.5 1206.3L1959.9 1195.4L1969 1188.2L1974.4 1206.3L1985.3 1219L2010.7 1209L1999.8 1217.2L1985.3 1222.7L1974.4 1217.2L1967.2 1206.3L1959.9 1224.5L1952.6 1230.8L1943.6 1224.5L1938.1 1219.9L1923.6 1217.2L1910.9 1222.7L1903.6 1235.4L1880 1240.8L1880 1231.7L1890.9 1224.5Z"/>
<path fill="#00b43c" fill-rule="evenodd" d="M1867 1068.1L1877.9 1075.3L1888.7 1091.7L1892.4 1106.2L1881.5 1108L1874.2 1099L1863.3 1080.8Z"/>
<path fill="#00b43c" fill-rule="evenodd" d="M1841.5 1140.4L1865.1 1141.1L1864.2 1145.3L1842.4 1144.3Z"/>
<path fill="#00b43c" fill-rule="evenodd" d="M1903.3 1138.9L1920 1135.3L1920 1153.4L1908.7 1151.6Z"/>
<path fill="#00b43c" fill-rule="evenodd" d="M2050.7 1170L2072.5 1170L2097.9 1188.2L2097.9 1211.8L2085.2 1206.3L2077.9 1197.2L2068.9 1186.3L2061.6 1177.3Z"/>
<path fill="#ffff00" fill-rule="evenodd" d="M1819.7 1066.3L1823.4 1053.6L1830.6 1050.8L1837.9 1059L1837.9 1073.5L1829.7 1082.6L1823.4 1075.3Z"/>
<path fill="#ffff00" fill-rule="evenodd" d="M1774.3 1089.9L1779.8 1086.2L1794.3 1089L1801.6 1099L1803.4 1108L1798 1120.7L1790.7 1131.6L1783.4 1138.9L1774.3 1129.8L1773.4 1113.5L1774.3 1099Z"/>
<path fill="#ffff00" fill-rule="evenodd" d="M1801.6 1125.3L1812.5 1114.4L1828.8 1113.5L1839.7 1125.3L1830.6 1137.1L1810.7 1135.3Z"/>
<path fill="#ffff00" fill-rule="evenodd" d="M1842.4 1107.1L1846.1 1104.4L1849.7 1108L1846.1 1110.8Z"/>
<path fill="#ffff00" fill-rule="evenodd" d="M1703.5 1199.9L1703.5 1153.4L1705.3 1146.2L1710.8 1133.5L1721.7 1125.3L1736.2 1131.6L1750.7 1129.8L1765.3 1133.5L1774.3 1140.7L1779.8 1153.4L1781.6 1171.6L1788.9 1182.5L1792.5 1171.6L1798 1162.5L1803.4 1151.6L1812.5 1149.8L1825.2 1153.4L1830.6 1164.3L1828.8 1171.6L1847 1171.6L1856.1 1177L1848.8 1189.7L1841.5 1199.9L1865.1 1170L1854.2 1180.9L1839.7 1191.8L1836.1 1206.3L1827 1224.5L1817.9 1229.9L1816.1 1242.6L1799.7 1246.3L1788.9 1251.7L1781.6 1264.4L1785.2 1277.1L1779.8 1286.2L1768.9 1295.3L1756.2 1282.6L1745.3 1271.7L1741.6 1260.8L1727.1 1249.9L1712.6 1246.3L1701.7 1239L1693.5 1228.1L1698.1 1217.2L1709 1208.1L1716.2 1204.5L1710.8 1188.2L1709 1170Z"/>
<path fill="#ffff00" fill-rule="evenodd" d="M1865.1 1177L1874.2 1169.8L1885.1 1164.3L1892.4 1153.4L1894.2 1164.3L1888.7 1180.7L1877.9 1187.9L1870.6 1182.5Z"/>
<path fill="#ffff00" fill-rule="evenodd" d="M1689 1260.8L1703.5 1252.6L1712.6 1262.6L1705.3 1273.5L1690.8 1269Z"/>
<path fill="#ffff00" fill-rule="evenodd" d="M1716.2 1280.8L1721.7 1277.1L1730.7 1279.9L1723.5 1286.2Z"/>
<path fill="#ffff00" fill-rule="evenodd" d="M1730.7 1295.3L1738 1286.2L1743.5 1295.3L1739.8 1300.7L1731.7 1300.7Z"/>
<path fill="#ffff00" fill-rule="evenodd" d="M1980.6 1120.7L1983.9 1107.7L1989.3 1118.6L1987.2 1125.1Z"/>
<path fill="#ffff00" fill-rule="evenodd" d="M1941.4 1140.4L1952.3 1127.3L1958.8 1145.8L1950.1 1148Z"/>
<path fill="#ffff00" fill-rule="evenodd" d="M1998 1228.1L2010.7 1219L2030.7 1213.6L2038 1226.3L2034.3 1233.6L2028.9 1239L2018 1233.6L1999.8 1237.2Z"/>
<path fill="#ffff00" fill-rule="evenodd" d="M2036.2 1209.9L2045.2 1202.7L2054.3 1211.8L2045.2 1219Z"/>
<path fill="#ffff00" fill-rule="evenodd" d="M2056.1 1228.1L2063.4 1220.8L2077.9 1228.1L2061.6 1239Z"/>
<path fill="#ffff00" fill-rule="evenodd" d="M2018 1262.6L2030.7 1254.4L2039.8 1262.6L2030.7 1269.9Z"/>
<path fill="#ffff00" fill-rule="evenodd" d="M1880 1170L1890.9 1170L1892.7 1179.1L1885.4 1182.7L1880 1179.1Z"/>
<path fill="#ffcd00" fill-rule="evenodd" d="M1716.2 1199.9L1718.1 1162.5L1729 1160.7L1747.1 1164.3L1758 1171.6L1768.9 1178.9L1779.8 1182.5L1783.4 1199.9L1816.1 1170L1814.3 1203.6L1723.5 1202.7L1716.2 1191.8L1712.6 1170Z"/>
<path fill="#ffcd00" fill-rule="evenodd" d="M1799.8 1158.9L1810.7 1152.5L1819.7 1154.3L1822.5 1161.6L1816.1 1168L1816.1 1199.9L1792.5 1199.9L1794.3 1180.7Z"/>
<path fill="#ffcd00" fill-rule="evenodd" d="M1694.4 1228.1L1703.5 1219L1716.2 1219L1727.1 1224.5L1730.7 1233.6L1718 1239L1705.3 1237.2Z"/>
<path fill="#ffcd00" fill-rule="evenodd" d="M1738 1231.7L1745.3 1224.5L1759.8 1217.2L1768.9 1213.6L1778 1222.7L1781.6 1229.9L1774.3 1237.2L1763.4 1240.8L1750.7 1239Z"/>
<path fill="#ffcd00" fill-rule="evenodd" d="M1797.9 1213.6L1814.3 1213.6L1816.1 1229.9L1805.2 1228.1L1797.9 1220.8Z"/>
<path fill="#ffcd00" fill-rule="evenodd" d="M1759.8 1279L1768.9 1270.8L1778 1279L1768.9 1288Z"/>
<path fill="#ff9b0a" fill-rule="evenodd" d="M1721.7 1199.9L1725.3 1180.7L1734.4 1173.4L1747.1 1177L1758 1182.5L1765.3 1186.1L1776.2 1189.7L1779.8 1199.9L1779.8 1197.2L1768.9 1201.8L1756.2 1197.2L1738 1199.1L1723.5 1197.2L1718 1190Z"/>
<path fill="#ff9b0a" fill-rule="evenodd" d="M1701.7 1229L1707.1 1224.5L1714.4 1229L1707.1 1233.6Z"/>
<path fill="#ff9b0a" fill-rule="evenodd" d="M1756.2 1229.9L1767.1 1219L1774.3 1229L1767.1 1237.2Z"/>
<path fill="#ff9b0a" fill-rule="evenodd" d="M1810.7 1158.9L1816.1 1154.3L1821.6 1159.8L1816.1 1165.2Z"/>
<path fill="#ff6400" fill-rule="evenodd" d="M1732.6 1199.9L1736.2 1178.9L1747.1 1187.9L1758 1189.7L1765.3 1199.9L1754.3 1193.6L1741.6 1195.4L1732.6 1190Z"/>
<path fill="#ff0000" fill-rule="evenodd" d="M1758 1195.2L1767.1 1187.9L1776.2 1195.2L1774.3 1199.9L1776.1 1193.6L1768.9 1200L1758 1194.5Z"/>
<use href="#usmap" transform="translate(1319.6 987.7) scale(1.52576 1.65984)"/>
</g>
<rect class="b" x="1319.6" y="987.7" width="926.9" height="413.3"/>
<g clip-path="url(#cp_r3l)">
<path fill="#00ffff" fill-rule="evenodd" d="M412.7 1696.4L416.3 1696.4L429 1713.1L442.6 1713.1L456.3 1696.4L680 1696.4L720.8 1696.8L709 1714L720.8 1731.3L735.4 1714L750.2 1731.3L735.4 1747.6L750.2 1764.9L779.8 1764.9L794.4 1747.6L779.8 1731.3L794.4 1714L809.3 1696.8L824 1714L838.9 1696.8L853.4 1714L868.3 1714L883 1696.8L927.3 1696.8L940.6 1713.6L955.2 1713.6L969.9 1696.3L999.2 1731.6L1028.5 1731.6L1043.8 1713.6L1043.8 1748.2L1028.5 1766.9L1013.8 1750.9L985.8 1782.9L985.8 1817.5L955.2 1816.8L940.6 1833.5L940.6 1850.8L925.9 1868.1L925.9 1885L921.5 1903.2L926.9 1921.3L914.2 1937.7L897.9 1937.7L877.9 1946.7L859.7 1964.9L841.6 1986.7L839.8 2003L839.8 2021.2L852.5 2039.3L855.2 2066.6L855.2 2099.3L848.9 2099.3L832.5 2075.7L819.8 2048.4L818 2041.2L805.3 2024.8L779.8 2024.8L765.3 2008.5L734.5 2010.3L729 2019.4L719.9 2026.6L660 2024.8L652.4 2024.8L637.9 2041.2L621.5 2043L608.8 2059.3L605.2 2084.7L605.2 2099.3L499.8 2099.3L499.8 2093.8L486.2 2076.6L499.8 2059.3L486.2 2042.1L472.6 2042.1L486.2 2024.8L486.2 2006.7L457.2 1972.2L457.2 1954.9L458.1 1954.9L472.6 1969.4L486.2 1954L486.2 1921.3L499.8 1905L499.8 1885L486.2 1871.1L486.2 1833L498.9 1818.5L412.7 1714ZM488.6 1852L501.3 1836.6L514.7 1852L501.3 1867.8ZM809.3 1731.3L824 1714L838.9 1731.3L853.4 1714L883 1747.6L868.3 1764.9L853.4 1764.9L824 1800.3L794.4 1764.9L794.4 1747.6ZM883 1731.3L897.9 1714L912.4 1731.3L897.9 1747.6ZM927.3 1731.3L942 1714L956.9 1731.3L942 1747.6ZM912.4 1764.9L927.3 1747.6L942 1764.9L927.3 1782.1ZM883 1782.1L897.9 1764.9L912.4 1782.1L897.9 1800.3ZM838.9 1800.3L853.4 1782.1L868.3 1782.1L883 1800.3L868.3 1816.6L853.4 1816.6ZM735.4 1800.3L750.2 1782.1L765 1800.3L750.2 1816.6ZM883 1834.8L897.9 1852L868.3 1885.6L853.4 1869.3ZM955.2 1766.9L969.9 1750.9L984.5 1766.9L969.9 1782.9ZM781.7 1955.8L794.4 1940.4L808 1955.8L794.4 1971.3Z"/>
<path fill="#00ffff" fill-rule="evenodd" d="M383.6 1990.3L398.2 2006.7L413.6 2006.7L428.1 1990.3L429 2008.5L443.6 2024.8L443.6 2043L472.6 2076.6L458.1 2093.8L458.1 2099.3L441.7 2099.3L441.7 2077.5L413.6 2043L400 2041.2L412.7 2024.8L398.2 2023.9L383.6 2006.7Z"/>
<path fill="#00ffff" fill-rule="evenodd" d="M370.5 1768L385.5 1749.6L385.5 1770.8L370.5 1784.7Z"/>
<path fill="#00ffff" fill-rule="evenodd" d="M296.4 1814.2L324.3 1814.2L338.2 1798.7L354.9 1815.4L322.6 1817.6L310.4 1834.9Z"/>
<path fill="#00b43c" fill-rule="evenodd" d="M538.9 1714L554.3 1709.5L572.5 1710.4L588.8 1718.6L603.4 1724L614.2 1718.6L621.5 1714.6L637.9 1722.6L656 1731.7L648.7 1738.9L634.2 1734.9L623.3 1737.6L623.3 1747.6L634.2 1754.9L652.4 1752.2L663.3 1739.5L674.2 1738.6L680 1742.2L687.2 1754.9L707.2 1769.4L721.7 1773.1L734.5 1770.3L739.9 1784L736.3 1800.3L747.2 1816.6L754.4 1827.5L769 1840.2L783.5 1847.5L787.1 1856.6L783.5 1865.7L772.6 1874.7L763.5 1892.2L755.6 1881.2L746.2 1882.8L747.7 1901.6L736.7 1914.2L728.9 1901.6L721 1885.9L710 1873.3L697.4 1885.9L687.9 1906.4L684.8 1923.7L675.3 1937.8L674.5 1939.5L660 1957.6L660 1964.9L678.2 1966.7L692.7 1997.6L707.2 2003L719.9 2010.3L696.3 2010.7L660 2010.3L670.5 2010.3L659.6 2008.5L648.7 1999.4L630.6 2001.2L619.7 2008.5L617.9 2021.2L603.4 2028.5L590.6 2044.8L590.6 2066.6L596.1 2077.5L590.6 2077.5L588.8 2066.6L579.7 2059.3L568.9 2048.4L561.6 2046.6L545.2 2048.4L539.8 2041.2L538 2015.7L534.3 1994L534.3 1970.3L525.3 1957.6L527.1 1885L530.7 1871.1L527.1 1856.6L525.3 1838.4L521.6 1820.3L525.3 1805.7L528.9 1787.6L527.1 1769.4L530.7 1762.2L538 1749.5L545.2 1739.5L558 1736.7L561.6 1731.3L558 1725.8L543.4 1720.4Z"/>
<path fill="#00ffff" fill-rule="evenodd" d="M540.7 1782.1L550.7 1765.8L559.8 1759.4L561.6 1765.8L554.3 1778.5L543.4 1785.8Z"/>
<path fill="#00ffff" fill-rule="evenodd" d="M617.9 1742.2L622.4 1742.2L607 1765.8L602.4 1767.6Z"/>
<path fill="#00b43c" fill-rule="evenodd" d="M774 1800.3L779.8 1790.3L789.3 1800.3L780.8 1810.3Z"/>
<path fill="#00b43c" fill-rule="evenodd" d="M694.5 1937.7L705.4 1919.5L718.1 1917.7L725.4 1921.3L714.5 1937.7L705.4 1944.9Z"/>
<path fill="#00b43c" fill-rule="evenodd" d="M727.2 1937.7L734.5 1928.6L750.8 1927.7L759 1937.7L750.8 1947.6L734.5 1945.8Z"/>
<path fill="#00b43c" fill-rule="evenodd" d="M499.8 1731.3L502.6 1730.4L503.5 1740.4L500.8 1741.3Z"/>
<path fill="#73dc00" fill-rule="evenodd" d="M532.5 1816.6L543.4 1809.4L554.3 1802.1L561.6 1791.2L568.9 1776.7L572.5 1762.2L576.1 1756.7L583.4 1760.3L594.3 1773.1L605.2 1784.9L614.2 1776.7L621.5 1767.6L634.2 1773.1L648.7 1784L659.6 1773.1L666.9 1769.4L680 1771.2L680 1769.4L692.7 1762.2L708.1 1784L705.4 1798.5L719.9 1793L727.2 1805.7L729 1820.3L738.1 1834.8L747.2 1845.7L769 1852L749.3 1856L713.1 1870.2L703.7 1871.7L691.1 1887.5L681.6 1868.6L675.3 1867L665.9 1882.8L656.5 1898.5L650.2 1901.6L648.6 1917.4L646.9 1908.6L637.9 1930.4L627 1944.9L616.1 1955.8L599.7 1974L592.5 1990.3L605.2 2006.7L588.8 2024.8L587 2008.5L568.9 1992.1L561.6 1974L543.4 1961.3L536.2 1954L547.1 1939.5L550.7 1921.3L540.7 1902.3L554.3 1885L561.6 1874.7L568.9 1863.9L576.1 1853L561.6 1843.9L552.5 1834.8L543.4 1825.7Z"/>
<path fill="#00b43c" fill-rule="evenodd" d="M602.4 1935.8L617.9 1919.5L622.4 1923.1L608.8 1939.5Z"/>
<path fill="#ffff00" fill-rule="evenodd" d="M604.5 1800.9L618.7 1797.8L621.8 1790.7L634.4 1789.9L650.2 1793.8L661.2 1792.3L670.6 1799.3L688.7 1818.2L684.8 1829.2L676.9 1843.4L672.2 1838.7L661.2 1840.3L656.5 1854.4L648.6 1860.7L647 1885.9L632.9 1889.8L623.4 1901.6L606.1 1900.1L601.4 1885.9L602.2 1868.6L609.2 1848.1L610.8 1823Z"/>
<path fill="#ffff00" fill-rule="evenodd" d="M601.5 1885L605.2 1895.9L617.9 1902.3L627 1894.1L646.9 1888.6L648.7 1885L634.2 1877.7L607 1879.6Z"/>
<use href="#usmap" transform="translate(180.6 1679.8) scale(1.44362 1.66466)"/>
</g>
<rect class="b" x="180.6" y="1679.8" width="877" height="414.5"/>
<g clip-path="url(#cp_r3r)">
<path fill="#00ffff" fill-rule="evenodd" d="M1443.9 1696.5L1583.4 1696.5L1597.9 1680L1612.4 1696.5L1692.3 1695.5L1705.9 1680L1719.4 1695.5L1785.3 1695.5L1800.8 1680L1814.3 1680L1833.7 1695.5L1851.1 1699.4L1864.7 1712L1897.6 1712L1913.1 1716.8L1920.9 1725.5L1930.6 1731.3L1968.7 1731.3L1986.2 1753.6L1986.2 1773L1997.8 1788.5L2001.7 1800.1L2015.2 1815.6L2044.3 1783.6L2077.2 1780.7L2092.7 1765.2L2139.2 1765.2L2154.7 1747.8L2170.2 1765.2L2185.7 1765.2L2185.7 1730.4L2201.2 1713.9L2232.2 1713.9L2232.2 1747.8L2247.7 1765.2L2232.2 1767.2L2201.2 1784.6L2187.6 1804L2189.6 1815.6L2177.9 1821.4L2154.7 1835L2135.3 1846.6L2123.7 1862.1L2123.7 1869.8L2114 1881.5L2108.2 1900L2109.2 1922.6L2093.7 1938.1L2078.2 1940L2062.7 1957.5L2047.2 1973L2033.7 1974.9L2016.2 1996.2L2018.2 2011.7L2031.7 2023.3L2033.7 2073.7L2035.6 2096.9L2027.8 2096.9L2020.1 2077.6L2000.7 2077.6L1998.8 2054.3L1994.9 2035L1977.5 2015.6L1973.6 2011.7L1900 2007.8L1890.6 2013.7L1871.2 2027.2L1813.1 2023.3L1793.7 2031.1L1774.3 2046.6L1770.5 2062.1L1768.5 2077.6L1737.5 2077.6L1737.5 2029.2L1722 2011.7L1704.6 2025.3L1691 2011.7L1677.5 2025.3L1660 2025.3L1631 1990.4L1613.6 1973L1600 1971L1600 1954.6L1613.6 1953.6L1626.2 1938.1L1613.6 1920.7L1629.1 1883.9L1639.6 1873.7L1645.4 1854.3L1629.9 1836.9L1614.4 1850.5L1614.4 1866L1595 1885.3L1595 1844.6L1581.5 1829.2L1566 1829.2L1566 1782.7L1581.5 1765.2L1567.9 1749.7L1552.4 1749.7L1536.9 1767.2L1521.4 1749.7L1505.9 1749.7L1474.9 1782.7L1459.4 1800.1L1457.5 1817.5L1442 1800.1L1427.5 1800.1L1442 1782.7L1426.5 1765.2L1411 1765.2L1426.5 1748.8L1412 1732.3Z"/>
<path fill="#00ffff" fill-rule="evenodd" d="M1380 1749.7L1397.4 1766.2L1397.4 1800.1L1380 1783.6Z"/>
<path fill="#00ffff" fill-rule="evenodd" d="M1504 1784.6L1519.5 1800.1L1535 1784.6L1535 1769.1L1550.5 1784.6L1564 1784.6L1564 1800.1L1550.5 1815.6L1550.5 1835L1566 1852.4L1566 1869.8L1550.5 1852.4L1535 1852.4L1535 1815.6L1519.5 1802L1504 1815.6Z"/>
<path fill="#00ffff" fill-rule="evenodd" d="M1380 1852.4L1396.5 1835L1412 1852.4L1443 1852.4L1427.5 1867.9L1427.5 1900L1414.9 1900L1426.5 1885.3L1426.5 1867.9L1412 1854.3L1396.5 1854.3L1380 1869.8Z"/>
<path fill="#00ffff" fill-rule="evenodd" d="M1540.7 1952.7L1558.4 1935.1L1576 1917.5L1576 1941L1558.4 1958.6L1593.6 1958.6L1593.6 1985L1558.4 1985L1540.7 1970.3Z"/>
<path fill="#00ffff" fill-rule="evenodd" d="M1596.5 1867.6L1628.8 1835.3L1643.5 1841.1L1625.9 1867.6L1625.9 1894L1611.2 1911.6L1625.9 1926.3L1611.2 1941L1596.5 1929.2Z"/>
<path fill="#00ffff" fill-rule="evenodd" d="M1379.3 1753.1L1396.9 1753.1L1414.5 1770.7L1440.9 1770.7L1458.5 1794.2L1440.9 1811.8L1423.3 1791.2L1396.9 1791.2L1379.3 1773.6Z"/>
<path fill="#00ffff" fill-rule="evenodd" d="M1382.2 1841.1L1396.9 1852.9L1440.9 1852.9L1426.2 1867.6L1426.2 1899.9L1411.6 1905.7L1411.6 1867.6L1396.9 1867.6L1382.2 1858.8Z"/>
<path fill="#00b43c" fill-rule="evenodd" d="M1571.8 1736.2L1577.6 1724.6L1593.1 1720.7L1612.4 1721.6L1627.9 1728.4L1639.6 1716.8L1651.2 1703.2L1666.7 1697.4L1669.1 1696.5L1671 1709.1L1678.7 1696.5L1795 1696.5L1796.9 1709.1L1800.8 1716.8L1814.3 1712.9L1820.1 1718.7L1820.1 1730.4L1833.7 1736.2L1845.3 1742L1853.1 1738.1L1864.7 1740L1884.1 1747.8L1889.9 1751.7L1882.1 1757.5L1874.4 1765.2L1884.1 1771L1897.6 1761.4L1909.2 1755.5L1915.1 1767.2L1917 1782.7L1918.9 1796.2L1926.7 1815.6L1945.5 1804L1959.1 1780.7L1953.2 1767.2L1959.1 1757.5L1974.6 1757.5L1986.2 1771L1995.9 1788.5L1999.7 1804L2015.2 1813.7L2030.7 1807.8L2046.2 1804L2065.6 1800.1L2077.2 1790.4L2096.6 1784.6L2104.3 1778.8L2123.7 1784.6L2135.3 1776.9L2143.1 1780.7L2152.8 1784.6L2162.4 1774.9L2177.9 1763.3L2185.7 1757.5L2201.2 1759.4L2205.1 1765.2L2197.3 1776.9L2189.6 1784.6L2181.8 1800.1L2177.9 1811.7L2168.3 1819.5L2152.8 1827.2L2135.3 1838.8L2121.8 1850.5L2116 1864L2104.3 1873.7L2100.5 1900L2074.3 1901.3L2070.5 1907.1L2082.1 1918.7L2089.8 1930.4L2074.3 1942L2058.8 1957.5L2043.3 1971L2027.8 1976.9L2020.1 1988.5L2016.2 2004L2020.1 2019.5L2024 2035L2020.1 2044.6L2016.2 2054.3L2008.5 2062.1L2024 2073.7L2031.7 2091.1L2027.8 2093.1L2020.1 2079.5L2008.5 2064L2000.7 2054.3L1998.8 2044.6L1993 2019.5L1996.9 1996.2L2000.7 1973L2000.7 1957.5L1993 1955.5L1989.1 1971L1981.4 1974.9L1963.9 1973L1948.4 1971L1934.9 1965.2L1927.1 1957.5L1921.3 1938.1L1919.4 1930.4L1929.1 1920.7L1923.2 1914.9L1911.6 1924.6L1900 1928.4L1886.7 1922.6L1890.6 1905.2L1898.3 1891.6L1897.6 1893.1L1884.1 1881.5L1864.7 1879.5L1855 1885.3L1853.1 1900L1849.9 1899.4L1844.1 1912.9L1832.4 1907.1L1818.9 1903.2L1816.9 1918.7L1813.1 1932.3L1786 1928.4L1778.2 1938.1L1780.1 1953.6L1774.3 1973L1770.5 1988.5L1766.6 2007.8L1751.1 1998.2L1735.6 1994.3L1720.1 2000.1L1708.5 1994.3L1700.7 2002L1687.2 2005.9L1675.5 2013.7L1669.7 2004L1667.8 1980.7L1671.7 1957.5L1665.9 1938.1L1660 1922.6L1640.7 1920.7L1648.4 1880L1647.3 1873.7L1643.4 1846.6L1639.6 1831.1L1645.4 1815.6L1651.2 1796.2L1651.2 1784.6L1643.4 1771L1631.8 1763.3L1612.4 1761.4L1593.1 1759.4L1579.5 1753.6L1573.7 1745.9Z"/>
<path fill="#00b43c" fill-rule="evenodd" d="M1604.7 1697.4L1647.3 1697.4L1631.8 1707.1L1612.4 1709.1Z"/>
<path fill="#00b43c" fill-rule="evenodd" d="M1836.3 1936.2L1846 1924.6L1861.5 1936.2L1846 1948.8Z"/>
<path fill="#00b43c" fill-rule="evenodd" d="M1878.9 1973L1890.6 1961.4L1900.2 1973L1894.4 1996.2L1884.7 1996.2Z"/>
<path fill="#00ffff" fill-rule="evenodd" d="M2054 1827.2L2065.6 1815.6L2081.1 1813.7L2085 1819.5L2079.2 1835L2065.6 1840.8L2055.9 1835Z"/>
<path fill="#00ffff" fill-rule="evenodd" d="M2041.4 1854.3L2048.2 1850.5L2054 1854.3L2046.2 1871.8L2040.4 1866Z"/>
<path fill="#73dc00" fill-rule="evenodd" d="M1620.2 1747.8L1631.8 1742L1647.3 1742L1662.8 1753.6L1640 1740L1651.6 1753.6L1672.9 1749.7L1696.2 1745.9L1707.8 1732.3L1723.3 1730.4L1736.9 1740L1752.3 1742L1764 1732.3L1756.2 1728.4L1740.7 1712.9L1738.8 1701.3L1775.6 1697.4L1779.5 1718.7L1787.2 1720.7L1795 1724.6L1814.3 1734.2L1826 1740L1833.7 1743.9L1841.5 1757.5L1849.2 1765.2L1860.8 1774.9L1882.1 1780.7L1897.6 1784.6L1907.3 1792.3L1909.2 1804L1897.6 1796.2L1887.9 1788.5L1872.4 1796.2L1868.6 1804L1870.5 1819.5L1868.6 1831.1L1862.8 1840.8L1856.9 1854.3L1849.2 1873.7L1841.5 1883.4L1829.8 1866L1826 1873.7L1833.7 1891.1L1822.1 1900L1822.8 1905.2L1813.1 1901.3L1778.2 1905.2L1774.3 1922.6L1766.6 1938.1L1770.5 1953.6L1766.6 1967.2L1755 1971L1739.5 1976.9L1724 1971L1716.2 1967.2L1708.5 1971L1691 1965.2L1681.4 1957.5L1673.6 1938.1L1677.5 1918.7L1687.2 1905.2L1681.4 1880L1674.4 1885.3L1655.1 1873.7L1651.2 1854.3L1643.4 1840.8L1647.3 1827.2L1657 1811.7L1662.8 1796.2L1658.9 1780.7L1647.3 1773L1631.8 1759.4Z"/>
<path fill="#73dc00" fill-rule="evenodd" d="M1579.5 1732.3L1593.1 1730.4L1601.8 1732.3L1593.1 1747.8L1581.5 1749.7Z"/>
<path fill="#73dc00" fill-rule="evenodd" d="M2085 1800.1L2094.6 1792.3L2108.2 1790.4L2119.8 1795.3L2131.5 1796.2L2143.1 1796.2L2152.8 1796.2L2162.4 1784.6L2174.1 1776.9L2183.8 1769.1L2189.6 1776.9L2183.8 1788.5L2176 1800.1L2162.4 1811.7L2146.9 1819.5L2135.3 1823.3L2123.7 1815.6L2112.1 1813.7L2100.5 1811.7L2090.8 1805.9Z"/>
<path fill="#73dc00" fill-rule="evenodd" d="M1974.6 1800.1L1980.4 1788.5L1988.1 1788.5L1993.9 1807.8L1988.1 1815.6L1995.9 1819.5L2015.2 1821.4L2030.7 1813.7L2038.5 1819.5L2044.3 1833L2038.5 1840.8L2030.7 1844.6L2023 1854.3L2015.2 1858.2L2007.5 1866L1999.7 1873.7L1993.9 1866L1988.1 1850.5L1982.3 1835L1976.5 1815.6Z"/>
<path fill="#73dc00" fill-rule="evenodd" d="M1941.6 1831.1L1953.2 1809.8L1962 1827.2L1953.2 1848.5Z"/>
<path fill="#73dc00" fill-rule="evenodd" d="M1930 1850.5L1938.7 1838.8L1950.3 1851.4L1938.7 1864Z"/>
<path fill="#73dc00" fill-rule="evenodd" d="M1957.1 1851.4L1967.8 1838.8L1981.3 1851.4L1968.7 1864Z"/>
<path fill="#73dc00" fill-rule="evenodd" d="M1999.7 1873.7L2015.2 1858.2L2026.9 1873.7L2038.5 1875.6L2057.8 1891.1L2054 1900L2004.6 1899.4L1993 1916.8L1977.5 1918.7L1967.8 1903.2Z"/>
<path fill="#73dc00" fill-rule="evenodd" d="M2055.9 1869.8L2065.6 1860.1L2071.4 1854.3L2081.1 1869.8L2085 1881.5L2073.3 1885.3L2061.7 1879.5Z"/>
<path fill="#73dc00" fill-rule="evenodd" d="M2079.2 1846.6L2096.6 1835L2096.6 1850.5L2083 1852.4Z"/>
<path fill="#73dc00" fill-rule="evenodd" d="M1976.5 1887.3L1986.2 1884.4L1992 1888.2L1984.2 1891.1Z"/>
<path fill="#73dc00" fill-rule="evenodd" d="M1967.8 1903.2L1977.5 1918.7L1993 1916.8L2008.5 1905.2L2004.6 1897.4L2016.2 1885.8L2035.6 1880L2055 1880L2058.8 1891.6L2053 1905.2L2041.4 1920.7L2049.2 1932.3L2062.7 1916.8L2078.2 1932.3L2070.5 1943.9L2058.8 1955.5L2043.3 1967.2L2024 1974.9L2016.2 1965.2L2008.5 1953.6L2000.7 1945.9L1991 1945.9L1983.3 1947.8L1967.8 1965.2L1960 1955.5L1956.2 1943.9L1952.3 1932.3L1962 1914.9Z"/>
<path fill="#73dc00" fill-rule="evenodd" d="M1935.8 1938.1L1948.4 1932.3L1952.3 1943.9L1938.7 1955.5Z"/>
<path fill="#73dc00" fill-rule="evenodd" d="M2000.7 2027.2L2012.3 2004L2016.2 2015.6L2020.1 2027.2L2020.1 2042.7L2012.3 2048.5L2002.7 2050.5Z"/>
<path fill="#73dc00" fill-rule="evenodd" d="M1975.5 1887.7L1985.2 1883.9L1994.9 1887.7L1985.2 1891.6Z"/>
<path fill="#73dc00" fill-rule="evenodd" d="M1928.6 1852.4L1939.3 1838.8L1949.9 1850.5L1939.3 1864Z"/>
<path fill="#73dc00" fill-rule="evenodd" d="M1864.7 1867.9L1872.4 1862.1L1880.2 1868.9L1872.4 1875.6Z"/>
<path fill="#73dc00" fill-rule="evenodd" d="M1716.2 1988.5L1722 1978.8L1726.9 1988.5L1722 1994.3Z"/>
<path fill="#00b43c" fill-rule="evenodd" d="M1717.5 1761.4L1721.4 1756.5L1725.2 1761.4L1723.3 1769.1L1719.4 1769.1Z"/>
<path fill="#ffff00" fill-rule="evenodd" d="M1663.2 1819.5L1674.9 1809.8L1694.2 1813.7L1717.5 1807.8L1736.9 1805.9L1754.3 1804L1760.1 1794.3L1771.7 1782.7L1783.3 1773L1795 1780.7L1793 1790.4L1795 1804L1793 1815.6L1800.8 1829.2L1810.5 1838.8L1820.1 1846.6L1824 1862.1L1826 1875.6L1831.8 1889.2L1832.4 1889.7L1813.1 1891.6L1793.7 1891.6L1774.3 1897.4L1747.2 1901.3L1735.6 1903.2L1716.2 1899.4L1700.7 1896.5L1696.9 1885.8L1686.5 1885.3L1678.7 1877.6L1671 1871.8L1659.4 1873.7L1651.6 1864L1645.8 1848.5L1651.6 1838.8L1667.1 1827.2Z"/>
<path fill="#ffff00" fill-rule="evenodd" d="M1672.9 1763.3L1678.7 1761.4L1682.6 1771L1680.7 1784.6L1674.9 1792.3L1672 1780.7Z"/>
<path fill="#ffff00" fill-rule="evenodd" d="M1816.3 1765.2L1829.8 1751.7L1842.4 1765.2L1829.8 1778.8Z"/>
<path fill="#ffff00" fill-rule="evenodd" d="M1815.3 1816.6L1828.9 1803L1841.5 1816.6L1828.9 1831.1Z"/>
<path fill="#ffff00" fill-rule="evenodd" d="M1764.9 1765.2L1769.8 1763.3L1771.7 1771L1767.8 1774.9Z"/>
<path fill="#ffff00" fill-rule="evenodd" d="M1812.4 1748.8L1818.2 1746.8L1819.2 1753.6L1814.3 1754.6Z"/>
<path fill="#ffff00" fill-rule="evenodd" d="M1672.5 1763.3L1680.2 1761.4L1682.2 1776.9L1676.4 1788.5L1670.6 1784.6Z"/>
<path fill="#ffff00" fill-rule="evenodd" d="M1691 1955.5L1689.1 1918.7L1693 1909.1L1708.5 1905.2L1729.8 1905.2L1731.7 1911L1724 1918.7L1716.2 1928.4L1712.3 1938.1L1713.3 1955.5L1704.6 1961.4Z"/>
<path fill="#ffff00" fill-rule="evenodd" d="M1993 1924.6L2000.7 1916.8L2014.3 1914.9L2024 1920.7L2014.3 1926.5L2008.5 1932.3L2000.7 1940L1993 1934.2Z"/>
<path fill="#ffff00" fill-rule="evenodd" d="M2130.5 1801.1L2138.2 1792.3L2143.1 1796.2L2146.9 1804L2141.1 1809.8L2135.3 1806.9Z"/>
<path fill="#ffcd00" fill-rule="evenodd" d="M1758.2 1838.8L1771.7 1831.1L1783.3 1825.3L1793 1835L1798.8 1846.6L1804.6 1850.5L1808.5 1862.1L1795 1866L1783.3 1873.7L1773.7 1873.7L1756.2 1885.3L1744.6 1891.1L1725.2 1887.3L1717.5 1893.1L1703.9 1893.1L1703.9 1881.5L1725.2 1875.6L1733 1860.1L1736.9 1850.5L1746.5 1862.1L1756.2 1854.3Z"/>
<path fill="#ffcd00" fill-rule="evenodd" d="M1702.7 1872.3L1702.7 1891.6L1724 1897.4L1735.6 1893.6L1774.3 1891.6L1784 1885.8L1780.1 1876.1Z"/>
<path fill="#ffcd00" fill-rule="evenodd" d="M1650.7 1852.4L1660.3 1842.7L1669.1 1852.4L1660.3 1864Z"/>
<path fill="#ffcd00" fill-rule="evenodd" d="M1822.1 1816.6L1828.9 1809.8L1835.6 1816.6L1828.9 1824.3Z"/>
<path fill="#ffcd00" fill-rule="evenodd" d="M1823.1 1765.2L1829.8 1759.4L1835.6 1765.2L1829.8 1771Z"/>
<path fill="#ffcd00" fill-rule="evenodd" d="M1696.9 1916.8L1705.6 1907.1L1716.2 1912.9L1720.1 1918.7L1712.3 1928.4L1705.6 1932.3Z"/>
<path fill="#ff9b0a" fill-rule="evenodd" d="M1703.9 1900L1705.9 1885.3L1717.5 1877.6L1727.2 1885.3L1731 1893.1L1725.2 1900L1720.1 1893.6L1708.5 1889.7Z"/>
<path fill="#ff9b0a" fill-rule="evenodd" d="M1748.5 1885.3L1764 1873.7L1773.7 1881.5L1771.7 1891.1L1756.2 1891.1Z"/>
<path fill="#ff9b0a" fill-rule="evenodd" d="M1747.2 1880L1751.1 1887.7L1766.6 1890.7L1774.3 1885.8L1770.5 1880L1758.8 1876.1Z"/>
<path fill="#ff9b0a" fill-rule="evenodd" d="M1777.5 1848.5L1782.4 1843.7L1787.2 1848.5L1782.4 1852.4Z"/>
<path fill="#ff9b0a" fill-rule="evenodd" d="M1656.5 1852.4L1660.3 1847.6L1664.8 1852.4L1660.3 1858.2Z"/>
<path fill="#ff9b0a" fill-rule="evenodd" d="M1699.8 1920.7L1705.6 1912L1713.3 1920.7L1705.6 1930.4Z"/>
<path fill="#ff6400" fill-rule="evenodd" d="M1707.8 1889.2L1717.5 1883.4L1725.2 1889.2L1717.5 1895Z"/>
<path fill="#ff6400" fill-rule="evenodd" d="M1702.7 1921.3L1705.6 1917.8L1708.9 1921.3L1705.6 1924.9Z"/>
<use href="#usmap" transform="translate(1319.6 1679.8) scale(1.52642 1.66546)"/>
</g>
<rect class="b" x="1319.6" y="1679.8" width="927.3" height="414.7"/>
<g clip-path="url(#cp_r4l)">
<path fill="#00ffff" fill-rule="evenodd" d="M500 2392.7L647.1 2392.7L661.6 2407.2L676.1 2392.7L705.2 2392.7L691.5 2409L706.1 2426.3L759.6 2427.2L736 2457.2L736 2513.5L750.6 2529.8L763.6 2513.5L775.4 2496.2L763.6 2479L777.3 2461.7L807.2 2496.2L821.7 2479L821.7 2496.2L792.7 2530.7L778.2 2513.5L763.6 2530.7L763.6 2547L778.2 2564.3L792.7 2564.3L807.2 2548.9L821.7 2564.3L821.7 2579.9L821.7 2584.5L792.7 2584.5L763.6 2618.1L763.6 2634.5L778.2 2650.8L792.7 2634.5L792.7 2617.2L808.1 2617.2L808.1 2634.5L821.7 2651.7L836.3 2651.7L850.8 2634.5L850.8 2600.9L865.3 2583.6L894.4 2615.4L908.9 2600.9L923.4 2618.1L908.9 2634.5L887.1 2649L879.8 2652.6L865.3 2654.5L850.8 2670.8L839.9 2685.3L837.2 2698L838.1 2718L850.8 2736.2L852.6 2761.6L852.6 2794.3L847.2 2794.3L839.9 2779.7L832.6 2761.6L819.9 2743.4L818.1 2725.3L808.1 2707.1L792.7 2705.3L760 2703.5L748.7 2701.7L723.3 2705.3L714.2 2710.7L705.2 2721.6L647.1 2721.6L634.3 2738L618 2738L605.3 2752.5L605.3 2794.3L558.1 2794.3L558.1 2774.3L498.2 2704.4L486.4 2704.4L500 2687.1L486.4 2669L514.5 2634.5L500 2617.2L513.6 2598.2L513.6 2580L528.1 2564.3L513.6 2547L513.6 2528L500 2513.5L513.6 2497.1L529 2511.6L542.6 2496.2L529 2479L529 2462.6L513.6 2446.3L513.6 2409ZM545.7 2428.1L559 2412.7L572.6 2428.1L559 2443.5ZM545.4 2600.9L559 2585.4L572.6 2600.9L559 2616.3ZM516.3 2635.4L529 2619.9L543.6 2635.4L529 2650.8ZM501.8 2687.1L514.5 2671.7L529 2687.1L514.5 2702.6ZM808.1 2669L821.7 2653.5L835.4 2669L821.7 2685.3Z"/>
<path fill="#00ffff" fill-rule="evenodd" d="M821.7 2531.6L836.3 2515.3L849.9 2531.6Z"/>
<path fill="#00ffff" fill-rule="evenodd" d="M879.8 2531.6L894.4 2531.6L923.4 2497.1L953.4 2497.1L953.4 2513.5L938.9 2513.5L927.1 2529.8L938.9 2547L923.4 2547L910.7 2562.5L905.3 2579.9L894.4 2583.4L894.4 2548.9Z"/>
<path fill="#00ffff" fill-rule="evenodd" d="M878.9 2393.6L895.3 2409.9L895.3 2427.2L880.8 2445.4L865.3 2445.4L878.9 2428.1Z"/>
<path fill="#00ffff" fill-rule="evenodd" d="M982.4 2444.5L997 2444.5L997 2461.7Z"/>
<path fill="#00ffff" fill-rule="evenodd" d="M324.5 2669L342.7 2668L354.5 2651.7L369.9 2651.7L369.9 2669.9L355.4 2669.9L340.9 2687.1Z"/>
<path fill="#00ffff" fill-rule="evenodd" d="M440.7 2566.4L457.1 2566.4L440.7 2583.6Z"/>
<path fill="#00ffff" fill-rule="evenodd" d="M382.6 2687.1L399 2703.5L428 2703.5L443.5 2721.6L443.5 2738.9L458 2756.1L470.7 2756.1L485.2 2738.9L501.6 2738.9L515.2 2756.1L501.6 2757L487 2773.4L472.5 2774.3L459.8 2794.2L427.1 2794.2L427.1 2770.6L383.5 2721.6Z"/>
<path fill="#00b43c" fill-rule="evenodd" d="M423.5 2754.3L428.9 2747L439.8 2753.4L443.5 2757.9L439.8 2762.5L427.1 2759.7Z"/>
<path fill="#00b43c" fill-rule="evenodd" d="M580.8 2548.9L601.7 2532.5L607.1 2544.3L605.3 2551.6L589 2557.9Z"/>
<path fill="#00b43c" fill-rule="evenodd" d="M615.3 2564.3L619.8 2555.2L639.8 2546.1L645.2 2539.8L649.8 2551.6L650.7 2566.1L647.1 2579.9L648.9 2588.2L661.6 2587.3L676.1 2591.8L679.7 2598.2L668.9 2609.1L659.8 2621.8L643.4 2630.8L630.7 2636.3L618 2629L608.9 2617.2L616.2 2598.2L619.8 2580Z"/>
<path fill="#00b43c" fill-rule="evenodd" d="M569 2651.7L573.5 2645.4L579 2651.7L573.5 2658.1Z"/>
<path fill="#00b43c" fill-rule="evenodd" d="M684.3 2582.7L688.8 2579.1L693.4 2583.6L688.8 2587.3Z"/>
<path fill="#00b43c" fill-rule="evenodd" d="M614.4 2444.5L618.9 2442.6L623.5 2447.2L618 2450.8Z"/>
<path fill="#00b43c" fill-rule="evenodd" d="M609.8 2495.3L618 2490.8L619.8 2499.8L615.3 2500.7Z"/>
<path fill="#00b43c" fill-rule="evenodd" d="M628.9 2479L640.7 2478.6L639.8 2481.1L629.8 2481.7Z"/>
<path fill="#00b43c" fill-rule="evenodd" d="M687 2579.9L691.5 2571.6L692.8 2579.9Z"/>
<use href="#usmap" transform="translate(180.6 2376.2) scale(1.44165 1.66265)"/>
</g>
<rect class="b" x="180.6" y="2376.2" width="875.8" height="414"/>
<g clip-path="url(#cp_r4r)">
<path fill="#00ffff" fill-rule="evenodd" d="M1551.2 2393.2L1830 2393.2L1832.2 2393.9L1846.6 2409.8L1860.9 2409.8L1875.3 2425.2L1891.9 2425.2L1907.3 2409.8L1907.3 2426.3L1938.3 2460.6L1984.7 2460.6L2000.1 2478.3L1986.9 2497L2002.3 2512.5L2046.5 2512.5L2059.8 2497L2046.5 2480.5L2077.5 2480.5L2092.9 2495.9L2108.4 2495.9L2122.8 2480.5L2122.8 2461.7L2186.8 2461.7L2186.8 2495.9L2170.3 2497L2154.8 2513.6L2139.3 2529.1L2130.5 2540.1L2119.4 2550.1L2104 2551.2L2095.1 2564.4L2090.7 2585L2092.9 2585.5L2077.5 2586.6L2065.3 2601L2078.6 2616.5L2078.6 2631.9L2064.2 2646.3L2048.7 2669.5L2033.3 2670.6L2017.8 2687.2L2002.3 2688.3L1984.7 2672.8L1969.2 2687.2L1959.3 2677.2L1955.9 2671L1922.8 2671L1909.5 2686.1L1922.8 2702.6L1894.1 2705.9L1880.8 2717L1873.1 2725.8L1830 2679.4L1830 2722.5L1735.7 2722.5L1721.3 2738L1721.3 2721.4L1735.7 2704.8L1721.3 2688.3L1705.8 2688.3L1674.9 2721.4L1674.9 2705.9L1644 2672.8L1632.9 2679.4L1630.7 2687.2L1551.2 2687.2L1520.2 2652.9L1520.2 2635.2L1550.8 2600.8L1567.1 2617.1L1581.6 2617.1L1594.3 2599L1581.6 2584.4L1566.2 2584.4L1550.8 2569L1536.2 2584.4L1519.9 2584.4L1519.9 2583L1549 2549L1534.4 2532.7L1534.4 2515.4L1519.9 2499.1L1520.2 2480.5L1535.7 2462.8L1551.2 2480.5L1551.2 2495.9L1579.8 2528.1L1645.2 2528.1L1658.8 2513.6L1659.4 2478.3L1672.7 2462.8L1672.7 2446.2L1659.4 2430.8L1644 2446.2L1628.5 2446.2L1612.6 2428.6L1626.3 2410.9L1613 2397.6L1585.4 2428.6L1597.6 2446.2L1584.3 2446.2L1551.2 2412ZM1706.9 2445.1L1721.3 2429.7L1735.7 2445.1L1721.3 2460.6ZM1628.9 2533.6L1643.4 2549L1643.4 2566.3L1658.8 2583.5L1658.8 2600.8L1643.4 2617.1L1628.9 2600.8L1613.4 2617.1L1599.8 2600.8L1613.4 2585.3L1599.8 2566.3ZM1583.5 2635.3L1598 2618.9L1612.5 2618.9L1627 2635.3L1612.5 2651.6L1598 2651.6ZM1768.8 2688.3L1783.2 2671.7L1798.6 2688.3L1798.6 2704.8L1783.2 2721.4L1768.8 2704.8ZM2047.6 2531.3L2061.6 2515.8L2075.7 2531.3L2061.6 2546.8ZM2032.2 2565.5L2046.5 2551.2L2060.9 2565.5L2046.5 2581ZM1908.4 2617.6L1922.8 2602.1L1937.2 2617.6L1922.8 2633ZM1846.6 2669.5L1860.9 2655.1L1874.2 2669.5L1860.9 2683.8ZM1801.3 2688.3L1830 2657.3L1843.3 2670.6L1816.7 2703.7Z"/>
<path fill="#00ffff" fill-rule="evenodd" d="M1519.9 2583L1504.5 2583L1473.6 2617.1L1473.6 2634.4L1458.2 2651.6L1473.6 2668.9L1505.4 2668.9L1505.4 2664.3L1489 2664.3L1475.4 2646.2L1475.4 2635.3L1489 2619.8L1519.9 2586.2Z"/>
<path fill="#00ffff" fill-rule="evenodd" d="M1596.5 2480.5L1613 2497L1596.5 2497Z"/>
<path fill="#00ffff" fill-rule="evenodd" d="M1999 2721.4L2015.6 2721.4L2031.1 2739.1L2032.2 2792.1L2026.6 2792.1L2006.8 2774.4L1999 2774.4Z"/>
<path fill="#00ffff" fill-rule="evenodd" d="M1753.3 2772.2L1768.8 2755.7L1769.9 2792.1L1761.1 2781.1Z"/>
<path fill="#00ffff" fill-rule="evenodd" d="M1367.5 2446.9L1382.2 2442.2L1382.2 2464.5L1367.5 2464.5Z"/>
<path fill="#00ffff" fill-rule="evenodd" d="M1411.6 2583.1L1426.2 2597.8L1411.6 2613.7Z"/>
<path fill="#00b43c" fill-rule="evenodd" d="M1763.3 2425.2L1769.9 2415.3L1783.2 2415.3L1792 2425.2L1785.4 2434.1L1769.9 2434.1Z"/>
<path fill="#00b43c" fill-rule="evenodd" d="M1806.4 2445.1L1816.3 2437.4L1830 2436.3L1835.5 2445.1L1836.6 2462.8L1834.4 2484.9L1830 2493.7L1824 2520.2L1818.5 2515.8L1814.1 2493.7L1816.3 2476.1L1809.7 2458.4Z"/>
<path fill="#00b43c" fill-rule="evenodd" d="M1742.3 2462.8L1752.2 2455.1L1764.4 2465L1774.3 2467.2L1785.4 2473.8L1800.8 2480.5L1807.5 2493.7L1810.8 2511.4L1818.5 2524.7L1821.2 2542.3L1817.4 2557.8L1808.6 2570L1798.6 2577.7L1792 2568.9L1787.6 2553.4L1783.2 2562.2L1781 2577.7L1783.2 2585L1785.4 2593.3L1769.9 2599.9L1743.4 2595.5L1730.1 2602.1L1741.2 2617.6L1730.1 2623.1L1716.9 2617.6L1705.8 2624.2L1699.2 2617.6L1712.5 2606.5L1723.5 2601L1708 2593.3L1702.5 2584.4L1701.4 2546.8L1705.8 2544.5L1719.1 2544.5L1727.9 2551.2L1739 2545.7L1752.2 2544.5L1745.6 2533.5L1758.9 2511.4L1752.2 2493.7L1756.6 2476.1L1750 2470.5Z"/>
<path fill="#73dc00" fill-rule="evenodd" d="M1794.2 2549L1805.3 2544.5L1816.3 2546.8L1809.7 2562.2L1800.8 2562.2Z"/>
<path fill="#73dc00" fill-rule="evenodd" d="M1741.2 2566.6L1752.2 2564.4L1761.1 2567.7L1752.2 2572.2Z"/>
<path fill="#73dc00" fill-rule="evenodd" d="M1762.2 2585.4L1767.7 2575.5L1773.2 2585.4L1767.7 2590.9Z"/>
<use href="#usmap" transform="translate(1319.6 2376.2) scale(1.52642 1.66265)"/>
</g>
<rect class="b" x="1319.6" y="2376.2" width="927.3" height="414"/>
<rect x="797.9" y="2918.7" width="46.3" height="96.2" fill="#00ffff"/>
<rect x="843.7" y="2918.7" width="46.3" height="96.2" fill="#00b43c"/>
<rect x="889.5" y="2918.7" width="92.1" height="96.2" fill="#73dc00"/>
<rect x="981.1" y="2918.7" width="92.1" height="96.2" fill="#ffff00"/>
<rect x="1072.7" y="2918.7" width="92.1" height="96.2" fill="#ffcd00"/>
<rect x="1164.3" y="2918.7" width="92.1" height="96.2" fill="#ff9b0a"/>
<rect x="1256" y="2918.7" width="92.1" height="96.2" fill="#ff6400"/>
<rect x="1347.6" y="2918.7" width="92.1" height="96.2" fill="#ff0000"/>
<rect x="1439.2" y="2918.7" width="92.1" height="96.2" fill="#e60000"/>
<line x1="797.9" y1="3012.9" x2="797.9" y2="3027.9" stroke="#777" stroke-width="2"/>
<line x1="981.1" y1="3012.9" x2="981.1" y2="3027.9" stroke="#777" stroke-width="2"/>
<line x1="1164.3" y1="3012.9" x2="1164.3" y2="3027.9" stroke="#777" stroke-width="2"/>
<line x1="1347.6" y1="3012.9" x2="1347.6" y2="3027.9" stroke="#777" stroke-width="2"/>
<line x1="1530.8" y1="3012.9" x2="1530.8" y2="3027.9" stroke="#777" stroke-width="2"/>
<text x="485.3" y="82.8" font-size="63" textLength="204.2" lengthAdjust="spacingAndGlyphs">MWCC</text>
<text x="1610.3" y="82.3" font-size="63" textLength="383.8" lengthAdjust="spacingAndGlyphs">Storm Reports</text>
<text x="1083.4" y="203.2" font-size="63" textLength="168.4" lengthAdjust="spacingAndGlyphs">March</text>
<text x="1106.9" y="910.2" font-size="63" textLength="118.7" lengthAdjust="spacingAndGlyphs">May</text>
<text x="1109" y="1601.7" font-size="63" textLength="121.1" lengthAdjust="spacingAndGlyphs">June</text>
<text x="1022.7" y="2298.1" font-size="63" textLength="282.9" lengthAdjust="spacingAndGlyphs">September</text>
<text x="58.1" y="280" font-size="47.5" textLength="82.9" lengthAdjust="spacingAndGlyphs">50N</text>
<text x="1197" y="280" font-size="47.5" textLength="82.7" lengthAdjust="spacingAndGlyphs">50N</text>
<text x="60" y="373.3" font-size="47.5" textLength="81" lengthAdjust="spacingAndGlyphs">45N</text>
<text x="1198.9" y="373.3" font-size="47.5" textLength="80.8" lengthAdjust="spacingAndGlyphs">45N</text>
<text x="60" y="465" font-size="47.5" textLength="81" lengthAdjust="spacingAndGlyphs">40N</text>
<text x="1198.9" y="465" font-size="47.5" textLength="80.8" lengthAdjust="spacingAndGlyphs">40N</text>
<text x="58.6" y="554.5" font-size="47.5" textLength="82.4" lengthAdjust="spacingAndGlyphs">35N</text>
<text x="1197.5" y="554.5" font-size="47.5" textLength="82.2" lengthAdjust="spacingAndGlyphs">35N</text>
<text x="58.6" y="643.5" font-size="47.5" textLength="82.4" lengthAdjust="spacingAndGlyphs">30N</text>
<text x="1197.5" y="643.5" font-size="47.5" textLength="82.2" lengthAdjust="spacingAndGlyphs">30N</text>
<text x="58.8" y="735" font-size="47.5" textLength="82.2" lengthAdjust="spacingAndGlyphs">25N</text>
<text x="1197.7" y="735" font-size="47.5" textLength="82" lengthAdjust="spacingAndGlyphs">25N</text>
<text x="58.1" y="979.7" font-size="47.5" textLength="82.9" lengthAdjust="spacingAndGlyphs">50N</text>
<text x="1197" y="979.7" font-size="47.5" textLength="82.7" lengthAdjust="spacingAndGlyphs">50N</text>
<text x="60" y="1073" font-size="47.5" textLength="81" lengthAdjust="spacingAndGlyphs">45N</text>
<text x="1198.9" y="1073" font-size="47.5" textLength="80.8" lengthAdjust="spacingAndGlyphs">45N</text>
<text x="60" y="1164.7" font-size="47.5" textLength="81" lengthAdjust="spacingAndGlyphs">40N</text>
<text x="1198.9" y="1164.7" font-size="47.5" textLength="80.8" lengthAdjust="spacingAndGlyphs">40N</text>
<text x="58.6" y="1254.2" font-size="47.5" textLength="82.4" lengthAdjust="spacingAndGlyphs">35N</text>
<text x="1197.5" y="1254.2" font-size="47.5" textLength="82.2" lengthAdjust="spacingAndGlyphs">35N</text>
<text x="58.6" y="1343.2" font-size="47.5" textLength="82.4" lengthAdjust="spacingAndGlyphs">30N</text>
<text x="1197.5" y="1343.2" font-size="47.5" textLength="82.2" lengthAdjust="spacingAndGlyphs">30N</text>
<text x="58.8" y="1434.7" font-size="47.5" textLength="82.2" lengthAdjust="spacingAndGlyphs">25N</text>
<text x="1197.7" y="1434.7" font-size="47.5" textLength="82" lengthAdjust="spacingAndGlyphs">25N</text>
<text x="58.1" y="1669.7" font-size="47.5" textLength="82.9" lengthAdjust="spacingAndGlyphs">50N</text>
<text x="1197" y="1669.7" font-size="47.5" textLength="82.7" lengthAdjust="spacingAndGlyphs">50N</text>
<text x="60" y="1763" font-size="47.5" textLength="81" lengthAdjust="spacingAndGlyphs">45N</text>
<text x="1198.9" y="1763" font-size="47.5" textLength="80.8" lengthAdjust="spacingAndGlyphs">45N</text>
<text x="60" y="1854.7" font-size="47.5" textLength="81" lengthAdjust="spacingAndGlyphs">40N</text>
<text x="1198.9" y="1854.7" font-size="47.5" textLength="80.8" lengthAdjust="spacingAndGlyphs">40N</text>
<text x="58.6" y="1944.2" font-size="47.5" textLength="82.4" lengthAdjust="spacingAndGlyphs">35N</text>
<text x="1197.5" y="1944.2" font-size="47.5" textLength="82.2" lengthAdjust="spacingAndGlyphs">35N</text>
<text x="58.6" y="2033.2" font-size="47.5" textLength="82.4" lengthAdjust="spacingAndGlyphs">30N</text>
<text x="1197.5" y="2033.2" font-size="47.5" textLength="82.2" lengthAdjust="spacingAndGlyphs">30N</text>
<text x="58.8" y="2124.7" font-size="47.5" textLength="82.2" lengthAdjust="spacingAndGlyphs">25N</text>
<text x="1197.7" y="2124.7" font-size="47.5" textLength="82" lengthAdjust="spacingAndGlyphs">25N</text>
<text x="58.1" y="2363.6" font-size="47.5" textLength="82.9" lengthAdjust="spacingAndGlyphs">50N</text>
<text x="1197" y="2363.6" font-size="47.5" textLength="82.7" lengthAdjust="spacingAndGlyphs">50N</text>
<text x="60" y="2456.9" font-size="47.5" textLength="81" lengthAdjust="spacingAndGlyphs">45N</text>
<text x="1198.9" y="2456.9" font-size="47.5" textLength="80.8" lengthAdjust="spacingAndGlyphs">45N</text>
<text x="60" y="2548.6" font-size="47.5" textLength="81" lengthAdjust="spacingAndGlyphs">40N</text>
<text x="1198.9" y="2548.6" font-size="47.5" textLength="80.8" lengthAdjust="spacingAndGlyphs">40N</text>
<text x="58.6" y="2638.1" font-size="47.5" textLength="82.4" lengthAdjust="spacingAndGlyphs">35N</text>
<text x="1197.5" y="2638.1" font-size="47.5" textLength="82.2" lengthAdjust="spacingAndGlyphs">35N</text>
<text x="58.6" y="2727.1" font-size="47.5" textLength="82.4" lengthAdjust="spacingAndGlyphs">30N</text>
<text x="1197.5" y="2727.1" font-size="47.5" textLength="82.2" lengthAdjust="spacingAndGlyphs">30N</text>
<text x="58.8" y="2818.6" font-size="47.5" textLength="82.2" lengthAdjust="spacingAndGlyphs">25N</text>
<text x="1197.7" y="2818.6" font-size="47.5" textLength="82" lengthAdjust="spacingAndGlyphs">25N</text>
<text x="211.8" y="788.9" font-size="47.5" textLength="112.1" lengthAdjust="spacingAndGlyphs">120W</text>
<text x="359" y="788.9" font-size="47.5" textLength="112.8" lengthAdjust="spacingAndGlyphs">110W</text>
<text x="512.7" y="788.9" font-size="47.5" textLength="112.8" lengthAdjust="spacingAndGlyphs">100W</text>
<text x="671.9" y="788.9" font-size="47.5" textLength="86.8" lengthAdjust="spacingAndGlyphs">90W</text>
<text x="812.7" y="788.9" font-size="47.5" textLength="88.3" lengthAdjust="spacingAndGlyphs">80W</text>
<text x="962.2" y="788.9" font-size="47.5" textLength="87.2" lengthAdjust="spacingAndGlyphs">70W</text>
<text x="1368" y="788.9" font-size="47.5" textLength="112.1" lengthAdjust="spacingAndGlyphs">120W</text>
<text x="1516.8" y="788.9" font-size="47.5" textLength="112" lengthAdjust="spacingAndGlyphs">110W</text>
<text x="1670.9" y="788.9" font-size="47.5" textLength="110.9" lengthAdjust="spacingAndGlyphs">100W</text>
<text x="1827.6" y="788.9" font-size="47.5" textLength="88.6" lengthAdjust="spacingAndGlyphs">90W</text>
<text x="1969" y="788.9" font-size="47.5" textLength="88.1" lengthAdjust="spacingAndGlyphs">80W</text>
<text x="2118.8" y="788.9" font-size="47.5" textLength="87" lengthAdjust="spacingAndGlyphs">70W</text>
<text x="211.8" y="1469.3" font-size="47.5" textLength="112.1" lengthAdjust="spacingAndGlyphs">120W</text>
<text x="359" y="1469.3" font-size="47.5" textLength="112.8" lengthAdjust="spacingAndGlyphs">110W</text>
<text x="512.7" y="1469.3" font-size="47.5" textLength="112.8" lengthAdjust="spacingAndGlyphs">100W</text>
<text x="671.9" y="1469.3" font-size="47.5" textLength="86.8" lengthAdjust="spacingAndGlyphs">90W</text>
<text x="812.7" y="1469.3" font-size="47.5" textLength="88.3" lengthAdjust="spacingAndGlyphs">80W</text>
<text x="962.2" y="1469.3" font-size="47.5" textLength="87.2" lengthAdjust="spacingAndGlyphs">70W</text>
<text x="1354.2" y="1469.3" font-size="47.5" textLength="110.9" lengthAdjust="spacingAndGlyphs">120W</text>
<text x="1503" y="1469.3" font-size="47.5" textLength="110.8" lengthAdjust="spacingAndGlyphs">110W</text>
<text x="1655.9" y="1469.3" font-size="47.5" textLength="110.9" lengthAdjust="spacingAndGlyphs">100W</text>
<text x="1813.2" y="1469.3" font-size="47.5" textLength="88.6" lengthAdjust="spacingAndGlyphs">90W</text>
<text x="1954" y="1469.3" font-size="47.5" textLength="88.8" lengthAdjust="spacingAndGlyphs">80W</text>
<text x="2103.7" y="1469.3" font-size="47.5" textLength="90.1" lengthAdjust="spacingAndGlyphs">70W</text>
<text x="211.8" y="2165" font-size="47.5" textLength="112.1" lengthAdjust="spacingAndGlyphs">120W</text>
<text x="359" y="2165" font-size="47.5" textLength="112.8" lengthAdjust="spacingAndGlyphs">110W</text>
<text x="512.7" y="2165" font-size="47.5" textLength="112.8" lengthAdjust="spacingAndGlyphs">100W</text>
<text x="671.9" y="2165" font-size="47.5" textLength="86.8" lengthAdjust="spacingAndGlyphs">90W</text>
<text x="812.7" y="2165" font-size="47.5" textLength="88.3" lengthAdjust="spacingAndGlyphs">80W</text>
<text x="962.2" y="2165" font-size="47.5" textLength="87.2" lengthAdjust="spacingAndGlyphs">70W</text>
<text x="1342.8" y="2165" font-size="47.5" textLength="111.5" lengthAdjust="spacingAndGlyphs">120W</text>
<text x="1491" y="2165" font-size="47.5" textLength="110" lengthAdjust="spacingAndGlyphs">110W</text>
<text x="1644" y="2165" font-size="47.5" textLength="110" lengthAdjust="spacingAndGlyphs">100W</text>
<text x="1801.2" y="2165" font-size="47.5" textLength="88.6" lengthAdjust="spacingAndGlyphs">90W</text>
<text x="1942" y="2165" font-size="47.5" textLength="88.8" lengthAdjust="spacingAndGlyphs">80W</text>
<text x="2091.8" y="2165" font-size="47.5" textLength="90" lengthAdjust="spacingAndGlyphs">70W</text>
<text x="211.8" y="2856.6" font-size="47.5" textLength="112.1" lengthAdjust="spacingAndGlyphs">120W</text>
<text x="359" y="2856.6" font-size="47.5" textLength="112.8" lengthAdjust="spacingAndGlyphs">110W</text>
<text x="512.7" y="2856.6" font-size="47.5" textLength="112.8" lengthAdjust="spacingAndGlyphs">100W</text>
<text x="671.9" y="2856.6" font-size="47.5" textLength="86.8" lengthAdjust="spacingAndGlyphs">90W</text>
<text x="812.7" y="2856.6" font-size="47.5" textLength="88.3" lengthAdjust="spacingAndGlyphs">80W</text>
<text x="962.2" y="2856.6" font-size="47.5" textLength="87.2" lengthAdjust="spacingAndGlyphs">70W</text>
<text x="1354.2" y="2856.6" font-size="47.5" textLength="110.9" lengthAdjust="spacingAndGlyphs">120W</text>
<text x="1503" y="2856.6" font-size="47.5" textLength="110.8" lengthAdjust="spacingAndGlyphs">110W</text>
<text x="1655.9" y="2856.6" font-size="47.5" textLength="110.9" lengthAdjust="spacingAndGlyphs">100W</text>
<text x="1813.2" y="2856.6" font-size="47.5" textLength="88.6" lengthAdjust="spacingAndGlyphs">90W</text>
<text x="1954" y="2856.6" font-size="47.5" textLength="88.8" lengthAdjust="spacingAndGlyphs">80W</text>
<text x="2103.7" y="2856.6" font-size="47.5" textLength="90.1" lengthAdjust="spacingAndGlyphs">70W</text>
<text x="791.3" y="3086" font-size="61" textLength="29" lengthAdjust="spacingAndGlyphs">0</text>
<text x="952.4" y="3086" font-size="61" textLength="57.9" lengthAdjust="spacingAndGlyphs">10</text>
<text x="1140.9" y="3086" font-size="61" textLength="57.9" lengthAdjust="spacingAndGlyphs">20</text>
<text x="1319.4" y="3086" font-size="61" textLength="57.9" lengthAdjust="spacingAndGlyphs">30</text>
<text x="1499.5" y="3086" font-size="61" textLength="57.9" lengthAdjust="spacingAndGlyphs">40</text>
</svg></body></html>
